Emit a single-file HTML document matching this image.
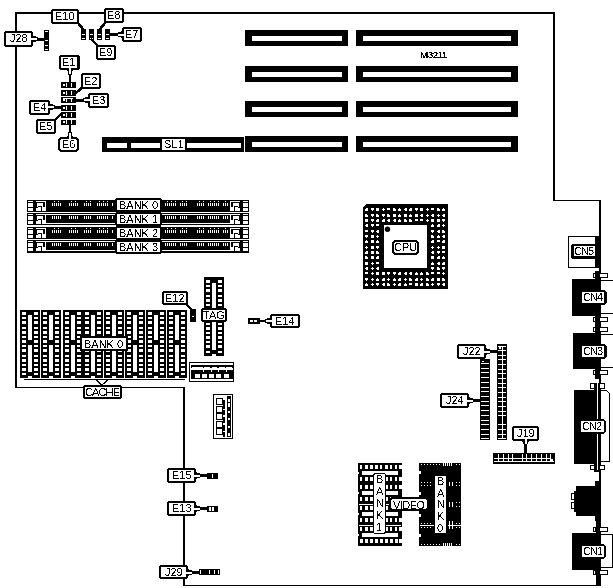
<!DOCTYPE html><html><head><meta charset="utf-8"><style>html,body{margin:0;padding:0;background:#fff;overflow:hidden;}svg{display:block;}text{font-family:"Liberation Sans",sans-serif;}</style></head><body><svg width="613" height="588" viewBox="0 0 613 588" shape-rendering="crispEdges" font-family="Liberation Sans, sans-serif">
<defs><filter id="th" x="0" y="0" width="613" height="588" filterUnits="userSpaceOnUse"><feComponentTransfer><feFuncA type="discrete" tableValues="0 1"/></feComponentTransfer></filter><filter id="th2" x="0" y="0" width="613" height="588" filterUnits="userSpaceOnUse"><feComponentTransfer><feFuncA type="discrete" tableValues="0 1 1"/></feComponentTransfer></filter></defs>
<rect x="0" y="0" width="613" height="588" fill="#fff"/>
<rect x="15" y="12" width="540" height="2" fill="#000"/>
<rect x="15" y="12" width="2" height="375" fill="#000"/>
<rect x="15" y="387" width="170" height="1" fill="#000"/>
<rect x="183" y="387" width="2" height="199" fill="#000"/>
<rect x="183" y="585" width="418" height="1" fill="#000"/>
<rect x="553" y="12" width="2" height="189" fill="#000"/>
<rect x="553" y="200" width="48" height="1" fill="#000"/>
<rect x="599" y="200" width="2" height="386" fill="#000"/>
<rect x="245" y="30" width="103" height="16" fill="#000"/>
<rect x="252" y="36" width="90" height="5" fill="#fff"/>
<rect x="356" y="30" width="162" height="16" fill="#000"/>
<rect x="363" y="36" width="148" height="5" fill="#fff"/>
<rect x="245" y="66" width="103" height="16" fill="#000"/>
<rect x="252" y="72" width="90" height="5" fill="#fff"/>
<rect x="356" y="66" width="162" height="16" fill="#000"/>
<rect x="363" y="72" width="148" height="5" fill="#fff"/>
<rect x="245" y="101" width="103" height="16" fill="#000"/>
<rect x="252" y="107" width="90" height="5" fill="#fff"/>
<rect x="356" y="101" width="162" height="16" fill="#000"/>
<rect x="363" y="107" width="148" height="5" fill="#fff"/>
<rect x="245" y="136" width="103" height="16" fill="#000"/>
<rect x="252" y="142" width="90" height="5" fill="#fff"/>
<rect x="356" y="136" width="162" height="16" fill="#000"/>
<rect x="363" y="142" width="148" height="5" fill="#fff"/>
<rect x="102" y="137" width="142" height="15" fill="#000"/>
<rect x="107" y="143" width="20" height="5" fill="#fff"/>
<rect x="131" y="143" width="29" height="5" fill="#fff"/>
<rect x="187" y="143" width="54" height="5" fill="#fff"/>
<rect x="162" y="139" width="23" height="11" fill="#fff"/>
<rect x="81" y="29" width="5" height="11" fill="#000"/>
<rect x="82" y="34" width="3" height="1" fill="#fff"/>
<rect x="82" y="38" width="3" height="1" fill="#fff"/>
<rect x="89" y="29" width="5" height="11" fill="#000"/>
<rect x="90" y="34" width="3" height="1" fill="#fff"/>
<rect x="90" y="38" width="3" height="1" fill="#fff"/>
<rect x="97" y="29" width="5" height="11" fill="#000"/>
<rect x="98" y="34" width="3" height="1" fill="#fff"/>
<rect x="98" y="38" width="3" height="1" fill="#fff"/>
<rect x="105" y="29" width="5" height="11" fill="#000"/>
<rect x="106" y="34" width="3" height="1" fill="#fff"/>
<rect x="106" y="38" width="3" height="1" fill="#fff"/>
<line x1="77" y1="22" x2="84" y2="30" stroke="#000" stroke-width="2.5"/>
<line x1="106" y1="22" x2="99" y2="30" stroke="#000" stroke-width="2.5"/>
<line x1="91" y1="39" x2="98" y2="46" stroke="#000" stroke-width="2.5"/>
<rect x="110" y="33" width="8" height="3" fill="#000"/>
<path d="M52 9H78V10H79V23H78V24H52V23H51V10H52Z" fill="#000"/>
<rect x="53" y="11" width="24" height="11" fill="#fff"/>
<path d="M105 8H123V9H124V22H123V23H105V22H104V9H105Z" fill="#000"/>
<rect x="106" y="10" width="16" height="11" fill="#fff"/>
<path d="M123 27H141V28H142V41H141V42H123V41H122V28H123Z" fill="#000"/>
<rect x="124" y="29" width="16" height="11" fill="#fff"/>
<path d="M97 45H115V46H116V59H115V60H97V59H96V46H97Z" fill="#000"/>
<rect x="98" y="47" width="16" height="11" fill="#fff"/>
<rect x="44" y="30" width="5" height="21" fill="#000"/>
<rect x="45" y="31" width="3" height="1" fill="#fff"/>
<rect x="45" y="40" width="3" height="1" fill="#fff"/>
<rect x="45" y="45" width="3" height="1" fill="#fff"/>
<rect x="45" y="49" width="3" height="1" fill="#fff"/>
<rect x="37" y="38" width="7" height="3" fill="#000"/>
<path d="M5 31H32V32H33V46H32V47H5V46H4V32H5Z" fill="#000"/>
<rect x="6" y="33" width="25" height="12" fill="#fff"/>
<rect x="61" y="82" width="15" height="6" fill="#000"/>
<rect x="63" y="84" width="2" height="2" fill="#fff"/>
<rect x="66" y="83" width="1" height="4" fill="#fff"/>
<rect x="71" y="83" width="1" height="4" fill="#fff"/>
<rect x="61" y="90" width="15" height="6" fill="#000"/>
<rect x="63" y="92" width="2" height="2" fill="#fff"/>
<rect x="66" y="91" width="1" height="4" fill="#fff"/>
<rect x="71" y="91" width="1" height="4" fill="#fff"/>
<rect x="61" y="97" width="15" height="6" fill="#000"/>
<rect x="63" y="99" width="2" height="2" fill="#fff"/>
<rect x="66" y="98" width="1" height="4" fill="#fff"/>
<rect x="71" y="98" width="1" height="4" fill="#fff"/>
<rect x="63" y="98" width="10" height="1" fill="#fff"/>
<rect x="61" y="105" width="15" height="6" fill="#000"/>
<rect x="63" y="107" width="2" height="2" fill="#fff"/>
<rect x="66" y="106" width="1" height="4" fill="#fff"/>
<rect x="71" y="106" width="1" height="4" fill="#fff"/>
<rect x="61" y="112" width="15" height="6" fill="#000"/>
<rect x="63" y="114" width="2" height="2" fill="#fff"/>
<rect x="66" y="113" width="1" height="4" fill="#fff"/>
<rect x="71" y="113" width="1" height="4" fill="#fff"/>
<rect x="61" y="120" width="15" height="5" fill="#000"/>
<rect x="63" y="121" width="2" height="2" fill="#fff"/>
<rect x="66" y="120" width="1" height="4" fill="#fff"/>
<rect x="71" y="120" width="1" height="4" fill="#fff"/>
<rect x="69" y="69" width="2" height="13" fill="#000"/>
<line x1="76" y1="93" x2="83" y2="87" stroke="#000" stroke-width="2.5"/>
<rect x="76" y="99" width="8" height="3" fill="#000"/>
<rect x="54" y="106" width="7" height="3" fill="#000"/>
<line x1="55" y1="120" x2="62" y2="113" stroke="#000" stroke-width="2.5"/>
<rect x="69" y="125" width="2" height="12" fill="#000"/>
<path d="M60 55H79V56H80V69H79V70H60V69H59V56H60Z" fill="#000"/>
<rect x="61" y="57" width="16" height="11" fill="#fff"/>
<path d="M82 73H100V74H101V88H100V89H82V88H81V74H82Z" fill="#000"/>
<rect x="83" y="75" width="16" height="12" fill="#fff"/>
<path d="M89 93H108V94H109V107H108V108H89V107H88V94H89Z" fill="#000"/>
<rect x="90" y="95" width="17" height="11" fill="#fff"/>
<path d="M30 100H49V101H50V114H49V115H30V114H29V101H30Z" fill="#000"/>
<rect x="31" y="102" width="17" height="11" fill="#fff"/>
<path d="M37 119H55V120H56V133H55V134H37V133H36V120H37Z" fill="#000"/>
<rect x="38" y="121" width="16" height="11" fill="#fff"/>
<path d="M60 137H77V138H78V139H79V150H78V151H77V152H60V151H59V150H58V139H59V138H60Z" fill="#000"/>
<path d="M61 139H76V140H77V149H76V150H61V149H60V140H61Z" fill="#fff"/>
<rect x="27" y="200" width="222" height="12" fill="#000"/>
<rect x="28" y="201" width="5" height="1" fill="#fff"/>
<rect x="28" y="203" width="5" height="4" fill="#fff"/>
<rect x="28" y="208" width="5" height="3" fill="#fff"/>
<rect x="243" y="201" width="5" height="1" fill="#fff"/>
<rect x="243" y="203" width="5" height="4" fill="#fff"/>
<rect x="243" y="208" width="5" height="3" fill="#fff"/>
<rect x="36" y="201" width="10" height="1" fill="#fff"/>
<rect x="45" y="201" width="1" height="10" fill="#fff"/>
<rect x="37" y="203" width="6" height="3" fill="#fff"/>
<rect x="37" y="206" width="1" height="1" fill="#fff"/>
<rect x="42" y="206" width="1" height="1" fill="#fff"/>
<rect x="38" y="207" width="3" height="1" fill="#fff"/>
<rect x="36" y="208" width="5" height="3" fill="#fff"/>
<rect x="42" y="207" width="4" height="4" fill="#fff"/>
<rect x="230" y="201" width="10" height="1" fill="#fff"/>
<rect x="230" y="201" width="1" height="10" fill="#fff"/>
<rect x="233" y="203" width="6" height="3" fill="#fff"/>
<rect x="238" y="206" width="1" height="1" fill="#fff"/>
<rect x="233" y="206" width="1" height="1" fill="#fff"/>
<rect x="235" y="207" width="3" height="1" fill="#fff"/>
<rect x="235" y="208" width="5" height="3" fill="#fff"/>
<rect x="230" y="207" width="4" height="4" fill="#fff"/>
<rect x="52" y="203" width="1" height="3" fill="#fff"/>
<rect x="54" y="203" width="1" height="3" fill="#fff"/>
<rect x="54" y="201" width="1" height="1" fill="#fff"/>
<rect x="56" y="203" width="1" height="3" fill="#fff"/>
<rect x="58" y="203" width="1" height="3" fill="#fff"/>
<rect x="58" y="201" width="1" height="1" fill="#fff"/>
<rect x="60" y="203" width="1" height="3" fill="#fff"/>
<rect x="69" y="203" width="1" height="3" fill="#fff"/>
<rect x="71" y="203" width="1" height="3" fill="#fff"/>
<rect x="71" y="201" width="1" height="1" fill="#fff"/>
<rect x="73" y="203" width="1" height="3" fill="#fff"/>
<rect x="75" y="203" width="1" height="3" fill="#fff"/>
<rect x="75" y="201" width="1" height="1" fill="#fff"/>
<rect x="77" y="203" width="1" height="3" fill="#fff"/>
<rect x="84" y="203" width="1" height="3" fill="#fff"/>
<rect x="86" y="203" width="1" height="3" fill="#fff"/>
<rect x="86" y="201" width="1" height="1" fill="#fff"/>
<rect x="88" y="203" width="1" height="3" fill="#fff"/>
<rect x="90" y="203" width="1" height="3" fill="#fff"/>
<rect x="90" y="201" width="1" height="1" fill="#fff"/>
<rect x="97" y="203" width="1" height="3" fill="#fff"/>
<rect x="99" y="203" width="1" height="3" fill="#fff"/>
<rect x="99" y="201" width="1" height="1" fill="#fff"/>
<rect x="101" y="203" width="1" height="3" fill="#fff"/>
<rect x="103" y="203" width="1" height="3" fill="#fff"/>
<rect x="103" y="201" width="1" height="1" fill="#fff"/>
<rect x="105" y="203" width="1" height="3" fill="#fff"/>
<rect x="107" y="203" width="1" height="3" fill="#fff"/>
<rect x="107" y="201" width="1" height="1" fill="#fff"/>
<rect x="112" y="203" width="1" height="3" fill="#fff"/>
<rect x="165" y="203" width="1" height="3" fill="#fff"/>
<rect x="167" y="203" width="1" height="3" fill="#fff"/>
<rect x="167" y="201" width="1" height="1" fill="#fff"/>
<rect x="169" y="203" width="1" height="3" fill="#fff"/>
<rect x="171" y="203" width="1" height="3" fill="#fff"/>
<rect x="171" y="201" width="1" height="1" fill="#fff"/>
<rect x="173" y="203" width="1" height="3" fill="#fff"/>
<rect x="175" y="203" width="1" height="3" fill="#fff"/>
<rect x="175" y="201" width="1" height="1" fill="#fff"/>
<rect x="180" y="203" width="1" height="3" fill="#fff"/>
<rect x="182" y="203" width="1" height="3" fill="#fff"/>
<rect x="182" y="201" width="1" height="1" fill="#fff"/>
<rect x="184" y="203" width="1" height="3" fill="#fff"/>
<rect x="186" y="203" width="1" height="3" fill="#fff"/>
<rect x="186" y="201" width="1" height="1" fill="#fff"/>
<rect x="197" y="203" width="1" height="3" fill="#fff"/>
<rect x="199" y="203" width="1" height="3" fill="#fff"/>
<rect x="199" y="201" width="1" height="1" fill="#fff"/>
<rect x="201" y="203" width="1" height="3" fill="#fff"/>
<rect x="203" y="203" width="1" height="3" fill="#fff"/>
<rect x="203" y="201" width="1" height="1" fill="#fff"/>
<rect x="208" y="203" width="1" height="3" fill="#fff"/>
<rect x="210" y="203" width="1" height="3" fill="#fff"/>
<rect x="210" y="201" width="1" height="1" fill="#fff"/>
<rect x="212" y="203" width="1" height="3" fill="#fff"/>
<rect x="214" y="203" width="1" height="3" fill="#fff"/>
<rect x="214" y="201" width="1" height="1" fill="#fff"/>
<rect x="216" y="203" width="1" height="3" fill="#fff"/>
<rect x="218" y="203" width="1" height="3" fill="#fff"/>
<rect x="218" y="201" width="1" height="1" fill="#fff"/>
<rect x="223" y="203" width="1" height="3" fill="#fff"/>
<rect x="225" y="203" width="1" height="3" fill="#fff"/>
<rect x="225" y="201" width="1" height="1" fill="#fff"/>
<rect x="227" y="203" width="1" height="3" fill="#fff"/>
<rect x="27" y="213" width="222" height="12" fill="#000"/>
<rect x="28" y="214" width="5" height="1" fill="#fff"/>
<rect x="28" y="216" width="5" height="4" fill="#fff"/>
<rect x="28" y="221" width="5" height="3" fill="#fff"/>
<rect x="243" y="214" width="5" height="1" fill="#fff"/>
<rect x="243" y="216" width="5" height="4" fill="#fff"/>
<rect x="243" y="221" width="5" height="3" fill="#fff"/>
<rect x="36" y="214" width="10" height="1" fill="#fff"/>
<rect x="45" y="214" width="1" height="10" fill="#fff"/>
<rect x="37" y="216" width="6" height="3" fill="#fff"/>
<rect x="37" y="219" width="1" height="1" fill="#fff"/>
<rect x="42" y="219" width="1" height="1" fill="#fff"/>
<rect x="38" y="220" width="3" height="1" fill="#fff"/>
<rect x="36" y="221" width="5" height="3" fill="#fff"/>
<rect x="42" y="220" width="4" height="4" fill="#fff"/>
<rect x="230" y="214" width="10" height="1" fill="#fff"/>
<rect x="230" y="214" width="1" height="10" fill="#fff"/>
<rect x="233" y="216" width="6" height="3" fill="#fff"/>
<rect x="238" y="219" width="1" height="1" fill="#fff"/>
<rect x="233" y="219" width="1" height="1" fill="#fff"/>
<rect x="235" y="220" width="3" height="1" fill="#fff"/>
<rect x="235" y="221" width="5" height="3" fill="#fff"/>
<rect x="230" y="220" width="4" height="4" fill="#fff"/>
<rect x="36" y="214" width="204" height="1" fill="#fff"/>
<rect x="42" y="223" width="192" height="1" fill="#fff"/>
<rect x="52" y="216" width="1" height="3" fill="#fff"/>
<rect x="54" y="216" width="1" height="3" fill="#fff"/>
<rect x="56" y="216" width="1" height="3" fill="#fff"/>
<rect x="58" y="216" width="1" height="3" fill="#fff"/>
<rect x="60" y="216" width="1" height="3" fill="#fff"/>
<rect x="69" y="216" width="1" height="3" fill="#fff"/>
<rect x="71" y="216" width="1" height="3" fill="#fff"/>
<rect x="73" y="216" width="1" height="3" fill="#fff"/>
<rect x="75" y="216" width="1" height="3" fill="#fff"/>
<rect x="77" y="216" width="1" height="3" fill="#fff"/>
<rect x="84" y="216" width="1" height="3" fill="#fff"/>
<rect x="86" y="216" width="1" height="3" fill="#fff"/>
<rect x="88" y="216" width="1" height="3" fill="#fff"/>
<rect x="90" y="216" width="1" height="3" fill="#fff"/>
<rect x="97" y="216" width="1" height="3" fill="#fff"/>
<rect x="99" y="216" width="1" height="3" fill="#fff"/>
<rect x="101" y="216" width="1" height="3" fill="#fff"/>
<rect x="103" y="216" width="1" height="3" fill="#fff"/>
<rect x="105" y="216" width="1" height="3" fill="#fff"/>
<rect x="107" y="216" width="1" height="3" fill="#fff"/>
<rect x="112" y="216" width="1" height="3" fill="#fff"/>
<rect x="165" y="216" width="1" height="3" fill="#fff"/>
<rect x="167" y="216" width="1" height="3" fill="#fff"/>
<rect x="169" y="216" width="1" height="3" fill="#fff"/>
<rect x="171" y="216" width="1" height="3" fill="#fff"/>
<rect x="173" y="216" width="1" height="3" fill="#fff"/>
<rect x="175" y="216" width="1" height="3" fill="#fff"/>
<rect x="180" y="216" width="1" height="3" fill="#fff"/>
<rect x="182" y="216" width="1" height="3" fill="#fff"/>
<rect x="184" y="216" width="1" height="3" fill="#fff"/>
<rect x="186" y="216" width="1" height="3" fill="#fff"/>
<rect x="197" y="216" width="1" height="3" fill="#fff"/>
<rect x="199" y="216" width="1" height="3" fill="#fff"/>
<rect x="201" y="216" width="1" height="3" fill="#fff"/>
<rect x="203" y="216" width="1" height="3" fill="#fff"/>
<rect x="208" y="216" width="1" height="3" fill="#fff"/>
<rect x="210" y="216" width="1" height="3" fill="#fff"/>
<rect x="212" y="216" width="1" height="3" fill="#fff"/>
<rect x="214" y="216" width="1" height="3" fill="#fff"/>
<rect x="216" y="216" width="1" height="3" fill="#fff"/>
<rect x="218" y="216" width="1" height="3" fill="#fff"/>
<rect x="223" y="216" width="1" height="3" fill="#fff"/>
<rect x="225" y="216" width="1" height="3" fill="#fff"/>
<rect x="227" y="216" width="1" height="3" fill="#fff"/>
<rect x="27" y="227" width="222" height="12" fill="#000"/>
<rect x="28" y="228" width="5" height="1" fill="#fff"/>
<rect x="28" y="230" width="5" height="4" fill="#fff"/>
<rect x="28" y="235" width="5" height="3" fill="#fff"/>
<rect x="243" y="228" width="5" height="1" fill="#fff"/>
<rect x="243" y="230" width="5" height="4" fill="#fff"/>
<rect x="243" y="235" width="5" height="3" fill="#fff"/>
<rect x="36" y="228" width="10" height="1" fill="#fff"/>
<rect x="45" y="228" width="1" height="10" fill="#fff"/>
<rect x="37" y="230" width="6" height="3" fill="#fff"/>
<rect x="37" y="233" width="1" height="1" fill="#fff"/>
<rect x="42" y="233" width="1" height="1" fill="#fff"/>
<rect x="38" y="234" width="3" height="1" fill="#fff"/>
<rect x="36" y="235" width="5" height="3" fill="#fff"/>
<rect x="42" y="234" width="4" height="4" fill="#fff"/>
<rect x="230" y="228" width="10" height="1" fill="#fff"/>
<rect x="230" y="228" width="1" height="10" fill="#fff"/>
<rect x="233" y="230" width="6" height="3" fill="#fff"/>
<rect x="238" y="233" width="1" height="1" fill="#fff"/>
<rect x="233" y="233" width="1" height="1" fill="#fff"/>
<rect x="235" y="234" width="3" height="1" fill="#fff"/>
<rect x="235" y="235" width="5" height="3" fill="#fff"/>
<rect x="230" y="234" width="4" height="4" fill="#fff"/>
<rect x="52" y="230" width="1" height="3" fill="#fff"/>
<rect x="54" y="230" width="1" height="3" fill="#fff"/>
<rect x="54" y="228" width="1" height="1" fill="#fff"/>
<rect x="56" y="230" width="1" height="3" fill="#fff"/>
<rect x="58" y="230" width="1" height="3" fill="#fff"/>
<rect x="58" y="228" width="1" height="1" fill="#fff"/>
<rect x="60" y="230" width="1" height="3" fill="#fff"/>
<rect x="69" y="230" width="1" height="3" fill="#fff"/>
<rect x="71" y="230" width="1" height="3" fill="#fff"/>
<rect x="71" y="228" width="1" height="1" fill="#fff"/>
<rect x="73" y="230" width="1" height="3" fill="#fff"/>
<rect x="75" y="230" width="1" height="3" fill="#fff"/>
<rect x="75" y="228" width="1" height="1" fill="#fff"/>
<rect x="77" y="230" width="1" height="3" fill="#fff"/>
<rect x="84" y="230" width="1" height="3" fill="#fff"/>
<rect x="86" y="230" width="1" height="3" fill="#fff"/>
<rect x="86" y="228" width="1" height="1" fill="#fff"/>
<rect x="88" y="230" width="1" height="3" fill="#fff"/>
<rect x="90" y="230" width="1" height="3" fill="#fff"/>
<rect x="90" y="228" width="1" height="1" fill="#fff"/>
<rect x="97" y="230" width="1" height="3" fill="#fff"/>
<rect x="99" y="230" width="1" height="3" fill="#fff"/>
<rect x="99" y="228" width="1" height="1" fill="#fff"/>
<rect x="101" y="230" width="1" height="3" fill="#fff"/>
<rect x="103" y="230" width="1" height="3" fill="#fff"/>
<rect x="103" y="228" width="1" height="1" fill="#fff"/>
<rect x="105" y="230" width="1" height="3" fill="#fff"/>
<rect x="107" y="230" width="1" height="3" fill="#fff"/>
<rect x="107" y="228" width="1" height="1" fill="#fff"/>
<rect x="112" y="230" width="1" height="3" fill="#fff"/>
<rect x="165" y="230" width="1" height="3" fill="#fff"/>
<rect x="167" y="230" width="1" height="3" fill="#fff"/>
<rect x="167" y="228" width="1" height="1" fill="#fff"/>
<rect x="169" y="230" width="1" height="3" fill="#fff"/>
<rect x="171" y="230" width="1" height="3" fill="#fff"/>
<rect x="171" y="228" width="1" height="1" fill="#fff"/>
<rect x="173" y="230" width="1" height="3" fill="#fff"/>
<rect x="175" y="230" width="1" height="3" fill="#fff"/>
<rect x="175" y="228" width="1" height="1" fill="#fff"/>
<rect x="180" y="230" width="1" height="3" fill="#fff"/>
<rect x="182" y="230" width="1" height="3" fill="#fff"/>
<rect x="182" y="228" width="1" height="1" fill="#fff"/>
<rect x="184" y="230" width="1" height="3" fill="#fff"/>
<rect x="186" y="230" width="1" height="3" fill="#fff"/>
<rect x="186" y="228" width="1" height="1" fill="#fff"/>
<rect x="197" y="230" width="1" height="3" fill="#fff"/>
<rect x="199" y="230" width="1" height="3" fill="#fff"/>
<rect x="199" y="228" width="1" height="1" fill="#fff"/>
<rect x="201" y="230" width="1" height="3" fill="#fff"/>
<rect x="203" y="230" width="1" height="3" fill="#fff"/>
<rect x="203" y="228" width="1" height="1" fill="#fff"/>
<rect x="208" y="230" width="1" height="3" fill="#fff"/>
<rect x="210" y="230" width="1" height="3" fill="#fff"/>
<rect x="210" y="228" width="1" height="1" fill="#fff"/>
<rect x="212" y="230" width="1" height="3" fill="#fff"/>
<rect x="214" y="230" width="1" height="3" fill="#fff"/>
<rect x="214" y="228" width="1" height="1" fill="#fff"/>
<rect x="216" y="230" width="1" height="3" fill="#fff"/>
<rect x="218" y="230" width="1" height="3" fill="#fff"/>
<rect x="218" y="228" width="1" height="1" fill="#fff"/>
<rect x="223" y="230" width="1" height="3" fill="#fff"/>
<rect x="225" y="230" width="1" height="3" fill="#fff"/>
<rect x="225" y="228" width="1" height="1" fill="#fff"/>
<rect x="227" y="230" width="1" height="3" fill="#fff"/>
<rect x="27" y="240" width="222" height="13" fill="#000"/>
<rect x="28" y="241" width="5" height="1" fill="#fff"/>
<rect x="28" y="243" width="5" height="4" fill="#fff"/>
<rect x="28" y="248" width="5" height="3" fill="#fff"/>
<rect x="243" y="241" width="5" height="1" fill="#fff"/>
<rect x="243" y="243" width="5" height="4" fill="#fff"/>
<rect x="243" y="248" width="5" height="3" fill="#fff"/>
<rect x="36" y="241" width="10" height="1" fill="#fff"/>
<rect x="45" y="241" width="1" height="10" fill="#fff"/>
<rect x="37" y="243" width="6" height="3" fill="#fff"/>
<rect x="37" y="246" width="1" height="1" fill="#fff"/>
<rect x="42" y="246" width="1" height="1" fill="#fff"/>
<rect x="38" y="247" width="3" height="1" fill="#fff"/>
<rect x="36" y="248" width="5" height="3" fill="#fff"/>
<rect x="42" y="247" width="4" height="4" fill="#fff"/>
<rect x="230" y="241" width="10" height="1" fill="#fff"/>
<rect x="230" y="241" width="1" height="10" fill="#fff"/>
<rect x="233" y="243" width="6" height="3" fill="#fff"/>
<rect x="238" y="246" width="1" height="1" fill="#fff"/>
<rect x="233" y="246" width="1" height="1" fill="#fff"/>
<rect x="235" y="247" width="3" height="1" fill="#fff"/>
<rect x="235" y="248" width="5" height="3" fill="#fff"/>
<rect x="230" y="247" width="4" height="4" fill="#fff"/>
<rect x="36" y="241" width="204" height="1" fill="#fff"/>
<rect x="42" y="250" width="192" height="1" fill="#fff"/>
<rect x="52" y="243" width="1" height="3" fill="#fff"/>
<rect x="54" y="243" width="1" height="3" fill="#fff"/>
<rect x="56" y="243" width="1" height="3" fill="#fff"/>
<rect x="58" y="243" width="1" height="3" fill="#fff"/>
<rect x="60" y="243" width="1" height="3" fill="#fff"/>
<rect x="69" y="243" width="1" height="3" fill="#fff"/>
<rect x="71" y="243" width="1" height="3" fill="#fff"/>
<rect x="73" y="243" width="1" height="3" fill="#fff"/>
<rect x="75" y="243" width="1" height="3" fill="#fff"/>
<rect x="77" y="243" width="1" height="3" fill="#fff"/>
<rect x="84" y="243" width="1" height="3" fill="#fff"/>
<rect x="86" y="243" width="1" height="3" fill="#fff"/>
<rect x="88" y="243" width="1" height="3" fill="#fff"/>
<rect x="90" y="243" width="1" height="3" fill="#fff"/>
<rect x="97" y="243" width="1" height="3" fill="#fff"/>
<rect x="99" y="243" width="1" height="3" fill="#fff"/>
<rect x="101" y="243" width="1" height="3" fill="#fff"/>
<rect x="103" y="243" width="1" height="3" fill="#fff"/>
<rect x="105" y="243" width="1" height="3" fill="#fff"/>
<rect x="107" y="243" width="1" height="3" fill="#fff"/>
<rect x="112" y="243" width="1" height="3" fill="#fff"/>
<rect x="165" y="243" width="1" height="3" fill="#fff"/>
<rect x="167" y="243" width="1" height="3" fill="#fff"/>
<rect x="169" y="243" width="1" height="3" fill="#fff"/>
<rect x="171" y="243" width="1" height="3" fill="#fff"/>
<rect x="173" y="243" width="1" height="3" fill="#fff"/>
<rect x="175" y="243" width="1" height="3" fill="#fff"/>
<rect x="180" y="243" width="1" height="3" fill="#fff"/>
<rect x="182" y="243" width="1" height="3" fill="#fff"/>
<rect x="184" y="243" width="1" height="3" fill="#fff"/>
<rect x="186" y="243" width="1" height="3" fill="#fff"/>
<rect x="197" y="243" width="1" height="3" fill="#fff"/>
<rect x="199" y="243" width="1" height="3" fill="#fff"/>
<rect x="201" y="243" width="1" height="3" fill="#fff"/>
<rect x="203" y="243" width="1" height="3" fill="#fff"/>
<rect x="208" y="243" width="1" height="3" fill="#fff"/>
<rect x="210" y="243" width="1" height="3" fill="#fff"/>
<rect x="212" y="243" width="1" height="3" fill="#fff"/>
<rect x="214" y="243" width="1" height="3" fill="#fff"/>
<rect x="216" y="243" width="1" height="3" fill="#fff"/>
<rect x="218" y="243" width="1" height="3" fill="#fff"/>
<rect x="223" y="243" width="1" height="3" fill="#fff"/>
<rect x="225" y="243" width="1" height="3" fill="#fff"/>
<rect x="227" y="243" width="1" height="3" fill="#fff"/>
<path d="M116 198H161V199H162V211H161V212H116V211H115V199H116Z" fill="#000"/>
<rect x="117" y="200" width="43" height="10" fill="#fff"/>
<path d="M116 212H161V213H162V225H161V226H116V225H115V213H116Z" fill="#000"/>
<rect x="117" y="214" width="43" height="10" fill="#fff"/>
<path d="M116 226H161V227H162V239H161V240H116V239H115V227H116Z" fill="#000"/>
<rect x="117" y="228" width="43" height="10" fill="#fff"/>
<path d="M116 240H161V241H162V253H161V254H116V253H115V241H116Z" fill="#000"/>
<rect x="117" y="242" width="43" height="10" fill="#fff"/>
<rect x="20" y="310" width="20" height="68" fill="#000"/>
<rect x="22" y="312" width="4" height="3" fill="#fff"/>
<rect x="34" y="312" width="4" height="3" fill="#fff"/>
<rect x="22" y="317" width="4" height="2" fill="#fff"/>
<rect x="34" y="317" width="4" height="2" fill="#fff"/>
<rect x="22" y="321" width="4" height="3" fill="#fff"/>
<rect x="34" y="321" width="4" height="3" fill="#fff"/>
<rect x="22" y="327" width="4" height="2" fill="#fff"/>
<rect x="34" y="327" width="4" height="2" fill="#fff"/>
<rect x="22" y="331" width="4" height="3" fill="#fff"/>
<rect x="34" y="331" width="4" height="3" fill="#fff"/>
<rect x="22" y="336" width="4" height="2" fill="#fff"/>
<rect x="34" y="336" width="4" height="2" fill="#fff"/>
<rect x="22" y="340" width="4" height="3" fill="#fff"/>
<rect x="34" y="340" width="4" height="3" fill="#fff"/>
<rect x="22" y="345" width="4" height="2" fill="#fff"/>
<rect x="34" y="345" width="4" height="2" fill="#fff"/>
<rect x="22" y="349" width="4" height="3" fill="#fff"/>
<rect x="34" y="349" width="4" height="3" fill="#fff"/>
<rect x="22" y="355" width="4" height="2" fill="#fff"/>
<rect x="34" y="355" width="4" height="2" fill="#fff"/>
<rect x="22" y="359" width="4" height="3" fill="#fff"/>
<rect x="34" y="359" width="4" height="3" fill="#fff"/>
<rect x="22" y="364" width="4" height="2" fill="#fff"/>
<rect x="34" y="364" width="4" height="2" fill="#fff"/>
<rect x="22" y="368" width="4" height="3" fill="#fff"/>
<rect x="34" y="368" width="4" height="3" fill="#fff"/>
<rect x="22" y="373" width="4" height="2" fill="#fff"/>
<rect x="34" y="373" width="4" height="2" fill="#fff"/>
<rect x="28" y="315" width="4" height="25" fill="#fff"/>
<rect x="28" y="345" width="4" height="27" fill="#fff"/>
<rect x="28" y="376" width="4" height="2" fill="#fff"/>
<rect x="41" y="310" width="20" height="68" fill="#000"/>
<rect x="43" y="312" width="4" height="3" fill="#fff"/>
<rect x="55" y="312" width="4" height="3" fill="#fff"/>
<rect x="43" y="317" width="4" height="2" fill="#fff"/>
<rect x="55" y="317" width="4" height="2" fill="#fff"/>
<rect x="43" y="321" width="4" height="3" fill="#fff"/>
<rect x="55" y="321" width="4" height="3" fill="#fff"/>
<rect x="43" y="327" width="4" height="2" fill="#fff"/>
<rect x="55" y="327" width="4" height="2" fill="#fff"/>
<rect x="43" y="331" width="4" height="3" fill="#fff"/>
<rect x="55" y="331" width="4" height="3" fill="#fff"/>
<rect x="43" y="336" width="4" height="2" fill="#fff"/>
<rect x="55" y="336" width="4" height="2" fill="#fff"/>
<rect x="43" y="340" width="4" height="3" fill="#fff"/>
<rect x="55" y="340" width="4" height="3" fill="#fff"/>
<rect x="43" y="345" width="4" height="2" fill="#fff"/>
<rect x="55" y="345" width="4" height="2" fill="#fff"/>
<rect x="43" y="349" width="4" height="3" fill="#fff"/>
<rect x="55" y="349" width="4" height="3" fill="#fff"/>
<rect x="43" y="355" width="4" height="2" fill="#fff"/>
<rect x="55" y="355" width="4" height="2" fill="#fff"/>
<rect x="43" y="359" width="4" height="3" fill="#fff"/>
<rect x="55" y="359" width="4" height="3" fill="#fff"/>
<rect x="43" y="364" width="4" height="2" fill="#fff"/>
<rect x="55" y="364" width="4" height="2" fill="#fff"/>
<rect x="43" y="368" width="4" height="3" fill="#fff"/>
<rect x="55" y="368" width="4" height="3" fill="#fff"/>
<rect x="43" y="373" width="4" height="2" fill="#fff"/>
<rect x="55" y="373" width="4" height="2" fill="#fff"/>
<rect x="49" y="315" width="4" height="25" fill="#fff"/>
<rect x="49" y="345" width="4" height="27" fill="#fff"/>
<rect x="49" y="376" width="4" height="2" fill="#fff"/>
<rect x="63" y="310" width="20" height="68" fill="#000"/>
<rect x="65" y="312" width="4" height="3" fill="#fff"/>
<rect x="77" y="312" width="4" height="3" fill="#fff"/>
<rect x="65" y="317" width="4" height="2" fill="#fff"/>
<rect x="77" y="317" width="4" height="2" fill="#fff"/>
<rect x="65" y="321" width="4" height="3" fill="#fff"/>
<rect x="77" y="321" width="4" height="3" fill="#fff"/>
<rect x="65" y="327" width="4" height="2" fill="#fff"/>
<rect x="77" y="327" width="4" height="2" fill="#fff"/>
<rect x="65" y="331" width="4" height="3" fill="#fff"/>
<rect x="77" y="331" width="4" height="3" fill="#fff"/>
<rect x="65" y="336" width="4" height="2" fill="#fff"/>
<rect x="77" y="336" width="4" height="2" fill="#fff"/>
<rect x="65" y="340" width="4" height="3" fill="#fff"/>
<rect x="77" y="340" width="4" height="3" fill="#fff"/>
<rect x="65" y="345" width="4" height="2" fill="#fff"/>
<rect x="77" y="345" width="4" height="2" fill="#fff"/>
<rect x="65" y="349" width="4" height="3" fill="#fff"/>
<rect x="77" y="349" width="4" height="3" fill="#fff"/>
<rect x="65" y="355" width="4" height="2" fill="#fff"/>
<rect x="77" y="355" width="4" height="2" fill="#fff"/>
<rect x="65" y="359" width="4" height="3" fill="#fff"/>
<rect x="77" y="359" width="4" height="3" fill="#fff"/>
<rect x="65" y="364" width="4" height="2" fill="#fff"/>
<rect x="77" y="364" width="4" height="2" fill="#fff"/>
<rect x="65" y="368" width="4" height="3" fill="#fff"/>
<rect x="77" y="368" width="4" height="3" fill="#fff"/>
<rect x="65" y="373" width="4" height="2" fill="#fff"/>
<rect x="77" y="373" width="4" height="2" fill="#fff"/>
<rect x="71" y="315" width="4" height="25" fill="#fff"/>
<rect x="71" y="345" width="4" height="27" fill="#fff"/>
<rect x="71" y="376" width="4" height="2" fill="#fff"/>
<rect x="83" y="310" width="20" height="68" fill="#000"/>
<rect x="85" y="312" width="4" height="3" fill="#fff"/>
<rect x="97" y="312" width="4" height="3" fill="#fff"/>
<rect x="85" y="317" width="4" height="2" fill="#fff"/>
<rect x="97" y="317" width="4" height="2" fill="#fff"/>
<rect x="85" y="321" width="4" height="3" fill="#fff"/>
<rect x="97" y="321" width="4" height="3" fill="#fff"/>
<rect x="85" y="327" width="4" height="2" fill="#fff"/>
<rect x="97" y="327" width="4" height="2" fill="#fff"/>
<rect x="85" y="331" width="4" height="3" fill="#fff"/>
<rect x="97" y="331" width="4" height="3" fill="#fff"/>
<rect x="85" y="336" width="4" height="2" fill="#fff"/>
<rect x="97" y="336" width="4" height="2" fill="#fff"/>
<rect x="85" y="340" width="4" height="3" fill="#fff"/>
<rect x="97" y="340" width="4" height="3" fill="#fff"/>
<rect x="85" y="345" width="4" height="2" fill="#fff"/>
<rect x="97" y="345" width="4" height="2" fill="#fff"/>
<rect x="85" y="349" width="4" height="3" fill="#fff"/>
<rect x="97" y="349" width="4" height="3" fill="#fff"/>
<rect x="85" y="355" width="4" height="2" fill="#fff"/>
<rect x="97" y="355" width="4" height="2" fill="#fff"/>
<rect x="85" y="359" width="4" height="3" fill="#fff"/>
<rect x="97" y="359" width="4" height="3" fill="#fff"/>
<rect x="85" y="364" width="4" height="2" fill="#fff"/>
<rect x="97" y="364" width="4" height="2" fill="#fff"/>
<rect x="85" y="368" width="4" height="3" fill="#fff"/>
<rect x="97" y="368" width="4" height="3" fill="#fff"/>
<rect x="85" y="373" width="4" height="2" fill="#fff"/>
<rect x="97" y="373" width="4" height="2" fill="#fff"/>
<rect x="91" y="315" width="4" height="25" fill="#fff"/>
<rect x="91" y="345" width="4" height="27" fill="#fff"/>
<rect x="91" y="376" width="4" height="2" fill="#fff"/>
<rect x="104" y="310" width="20" height="68" fill="#000"/>
<rect x="106" y="312" width="4" height="3" fill="#fff"/>
<rect x="118" y="312" width="4" height="3" fill="#fff"/>
<rect x="106" y="317" width="4" height="2" fill="#fff"/>
<rect x="118" y="317" width="4" height="2" fill="#fff"/>
<rect x="106" y="321" width="4" height="3" fill="#fff"/>
<rect x="118" y="321" width="4" height="3" fill="#fff"/>
<rect x="106" y="327" width="4" height="2" fill="#fff"/>
<rect x="118" y="327" width="4" height="2" fill="#fff"/>
<rect x="106" y="331" width="4" height="3" fill="#fff"/>
<rect x="118" y="331" width="4" height="3" fill="#fff"/>
<rect x="106" y="336" width="4" height="2" fill="#fff"/>
<rect x="118" y="336" width="4" height="2" fill="#fff"/>
<rect x="106" y="340" width="4" height="3" fill="#fff"/>
<rect x="118" y="340" width="4" height="3" fill="#fff"/>
<rect x="106" y="345" width="4" height="2" fill="#fff"/>
<rect x="118" y="345" width="4" height="2" fill="#fff"/>
<rect x="106" y="349" width="4" height="3" fill="#fff"/>
<rect x="118" y="349" width="4" height="3" fill="#fff"/>
<rect x="106" y="355" width="4" height="2" fill="#fff"/>
<rect x="118" y="355" width="4" height="2" fill="#fff"/>
<rect x="106" y="359" width="4" height="3" fill="#fff"/>
<rect x="118" y="359" width="4" height="3" fill="#fff"/>
<rect x="106" y="364" width="4" height="2" fill="#fff"/>
<rect x="118" y="364" width="4" height="2" fill="#fff"/>
<rect x="106" y="368" width="4" height="3" fill="#fff"/>
<rect x="118" y="368" width="4" height="3" fill="#fff"/>
<rect x="106" y="373" width="4" height="2" fill="#fff"/>
<rect x="118" y="373" width="4" height="2" fill="#fff"/>
<rect x="112" y="315" width="4" height="25" fill="#fff"/>
<rect x="112" y="345" width="4" height="27" fill="#fff"/>
<rect x="112" y="376" width="4" height="2" fill="#fff"/>
<rect x="125" y="310" width="20" height="68" fill="#000"/>
<rect x="127" y="312" width="4" height="3" fill="#fff"/>
<rect x="139" y="312" width="4" height="3" fill="#fff"/>
<rect x="127" y="317" width="4" height="2" fill="#fff"/>
<rect x="139" y="317" width="4" height="2" fill="#fff"/>
<rect x="127" y="321" width="4" height="3" fill="#fff"/>
<rect x="139" y="321" width="4" height="3" fill="#fff"/>
<rect x="127" y="327" width="4" height="2" fill="#fff"/>
<rect x="139" y="327" width="4" height="2" fill="#fff"/>
<rect x="127" y="331" width="4" height="3" fill="#fff"/>
<rect x="139" y="331" width="4" height="3" fill="#fff"/>
<rect x="127" y="336" width="4" height="2" fill="#fff"/>
<rect x="139" y="336" width="4" height="2" fill="#fff"/>
<rect x="127" y="340" width="4" height="3" fill="#fff"/>
<rect x="139" y="340" width="4" height="3" fill="#fff"/>
<rect x="127" y="345" width="4" height="2" fill="#fff"/>
<rect x="139" y="345" width="4" height="2" fill="#fff"/>
<rect x="127" y="349" width="4" height="3" fill="#fff"/>
<rect x="139" y="349" width="4" height="3" fill="#fff"/>
<rect x="127" y="355" width="4" height="2" fill="#fff"/>
<rect x="139" y="355" width="4" height="2" fill="#fff"/>
<rect x="127" y="359" width="4" height="3" fill="#fff"/>
<rect x="139" y="359" width="4" height="3" fill="#fff"/>
<rect x="127" y="364" width="4" height="2" fill="#fff"/>
<rect x="139" y="364" width="4" height="2" fill="#fff"/>
<rect x="127" y="368" width="4" height="3" fill="#fff"/>
<rect x="139" y="368" width="4" height="3" fill="#fff"/>
<rect x="127" y="373" width="4" height="2" fill="#fff"/>
<rect x="139" y="373" width="4" height="2" fill="#fff"/>
<rect x="133" y="315" width="4" height="25" fill="#fff"/>
<rect x="133" y="345" width="4" height="27" fill="#fff"/>
<rect x="133" y="376" width="4" height="2" fill="#fff"/>
<rect x="146" y="310" width="20" height="68" fill="#000"/>
<rect x="148" y="312" width="4" height="3" fill="#fff"/>
<rect x="160" y="312" width="4" height="3" fill="#fff"/>
<rect x="148" y="317" width="4" height="2" fill="#fff"/>
<rect x="160" y="317" width="4" height="2" fill="#fff"/>
<rect x="148" y="321" width="4" height="3" fill="#fff"/>
<rect x="160" y="321" width="4" height="3" fill="#fff"/>
<rect x="148" y="327" width="4" height="2" fill="#fff"/>
<rect x="160" y="327" width="4" height="2" fill="#fff"/>
<rect x="148" y="331" width="4" height="3" fill="#fff"/>
<rect x="160" y="331" width="4" height="3" fill="#fff"/>
<rect x="148" y="336" width="4" height="2" fill="#fff"/>
<rect x="160" y="336" width="4" height="2" fill="#fff"/>
<rect x="148" y="340" width="4" height="3" fill="#fff"/>
<rect x="160" y="340" width="4" height="3" fill="#fff"/>
<rect x="148" y="345" width="4" height="2" fill="#fff"/>
<rect x="160" y="345" width="4" height="2" fill="#fff"/>
<rect x="148" y="349" width="4" height="3" fill="#fff"/>
<rect x="160" y="349" width="4" height="3" fill="#fff"/>
<rect x="148" y="355" width="4" height="2" fill="#fff"/>
<rect x="160" y="355" width="4" height="2" fill="#fff"/>
<rect x="148" y="359" width="4" height="3" fill="#fff"/>
<rect x="160" y="359" width="4" height="3" fill="#fff"/>
<rect x="148" y="364" width="4" height="2" fill="#fff"/>
<rect x="160" y="364" width="4" height="2" fill="#fff"/>
<rect x="148" y="368" width="4" height="3" fill="#fff"/>
<rect x="160" y="368" width="4" height="3" fill="#fff"/>
<rect x="148" y="373" width="4" height="2" fill="#fff"/>
<rect x="160" y="373" width="4" height="2" fill="#fff"/>
<rect x="154" y="315" width="4" height="25" fill="#fff"/>
<rect x="154" y="345" width="4" height="27" fill="#fff"/>
<rect x="154" y="376" width="4" height="2" fill="#fff"/>
<rect x="167" y="310" width="20" height="68" fill="#000"/>
<rect x="169" y="312" width="4" height="3" fill="#fff"/>
<rect x="181" y="312" width="4" height="3" fill="#fff"/>
<rect x="169" y="317" width="4" height="2" fill="#fff"/>
<rect x="181" y="317" width="4" height="2" fill="#fff"/>
<rect x="169" y="321" width="4" height="3" fill="#fff"/>
<rect x="181" y="321" width="4" height="3" fill="#fff"/>
<rect x="169" y="327" width="4" height="2" fill="#fff"/>
<rect x="181" y="327" width="4" height="2" fill="#fff"/>
<rect x="169" y="331" width="4" height="3" fill="#fff"/>
<rect x="181" y="331" width="4" height="3" fill="#fff"/>
<rect x="169" y="336" width="4" height="2" fill="#fff"/>
<rect x="181" y="336" width="4" height="2" fill="#fff"/>
<rect x="169" y="340" width="4" height="3" fill="#fff"/>
<rect x="181" y="340" width="4" height="3" fill="#fff"/>
<rect x="169" y="345" width="4" height="2" fill="#fff"/>
<rect x="181" y="345" width="4" height="2" fill="#fff"/>
<rect x="169" y="349" width="4" height="3" fill="#fff"/>
<rect x="181" y="349" width="4" height="3" fill="#fff"/>
<rect x="169" y="355" width="4" height="2" fill="#fff"/>
<rect x="181" y="355" width="4" height="2" fill="#fff"/>
<rect x="169" y="359" width="4" height="3" fill="#fff"/>
<rect x="181" y="359" width="4" height="3" fill="#fff"/>
<rect x="169" y="364" width="4" height="2" fill="#fff"/>
<rect x="181" y="364" width="4" height="2" fill="#fff"/>
<rect x="169" y="368" width="4" height="3" fill="#fff"/>
<rect x="181" y="368" width="4" height="3" fill="#fff"/>
<rect x="169" y="373" width="4" height="2" fill="#fff"/>
<rect x="181" y="373" width="4" height="2" fill="#fff"/>
<rect x="175" y="315" width="4" height="25" fill="#fff"/>
<rect x="175" y="345" width="4" height="27" fill="#fff"/>
<rect x="175" y="376" width="4" height="2" fill="#fff"/>
<rect x="40" y="310" width="1" height="68" fill="#fff"/>
<rect x="61" y="310" width="1" height="68" fill="#fff"/>
<rect x="62" y="310" width="1" height="68" fill="#fff"/>
<rect x="103" y="310" width="1" height="68" fill="#fff"/>
<rect x="124" y="310" width="1" height="68" fill="#fff"/>
<rect x="145" y="310" width="1" height="68" fill="#fff"/>
<rect x="166" y="310" width="1" height="68" fill="#fff"/>
<rect x="24" y="379" width="161" height="1" fill="#000"/>
<polyline points="96,379.5 102,385 108,379.5" fill="none" stroke="#000" stroke-width="1.3"/>
<rect x="80" y="336" width="48" height="15" fill="#000"/>
<rect x="82" y="338" width="44" height="11" fill="#fff"/>
<path d="M84 385H121V386H122V398H121V399H84V398H83V386H84Z" fill="#000"/>
<rect x="85" y="387" width="35" height="10" fill="#fff"/>
<rect x="204" y="277" width="20" height="79" fill="#000"/>
<rect x="206" y="280" width="4" height="3" fill="#fff"/>
<rect x="218" y="280" width="4" height="3" fill="#fff"/>
<rect x="206" y="285" width="4" height="2" fill="#fff"/>
<rect x="218" y="285" width="4" height="2" fill="#fff"/>
<rect x="206" y="289" width="4" height="3" fill="#fff"/>
<rect x="218" y="289" width="4" height="3" fill="#fff"/>
<rect x="206" y="295" width="4" height="2" fill="#fff"/>
<rect x="218" y="295" width="4" height="2" fill="#fff"/>
<rect x="206" y="299" width="4" height="3" fill="#fff"/>
<rect x="218" y="299" width="4" height="3" fill="#fff"/>
<rect x="206" y="304" width="4" height="2" fill="#fff"/>
<rect x="218" y="304" width="4" height="2" fill="#fff"/>
<rect x="206" y="308" width="4" height="3" fill="#fff"/>
<rect x="218" y="308" width="4" height="3" fill="#fff"/>
<rect x="206" y="313" width="4" height="2" fill="#fff"/>
<rect x="218" y="313" width="4" height="2" fill="#fff"/>
<rect x="206" y="317" width="4" height="3" fill="#fff"/>
<rect x="218" y="317" width="4" height="3" fill="#fff"/>
<rect x="206" y="323" width="4" height="2" fill="#fff"/>
<rect x="218" y="323" width="4" height="2" fill="#fff"/>
<rect x="206" y="327" width="4" height="3" fill="#fff"/>
<rect x="218" y="327" width="4" height="3" fill="#fff"/>
<rect x="206" y="332" width="4" height="2" fill="#fff"/>
<rect x="218" y="332" width="4" height="2" fill="#fff"/>
<rect x="206" y="336" width="4" height="3" fill="#fff"/>
<rect x="218" y="336" width="4" height="3" fill="#fff"/>
<rect x="206" y="341" width="4" height="2" fill="#fff"/>
<rect x="218" y="341" width="4" height="2" fill="#fff"/>
<rect x="206" y="345" width="4" height="3" fill="#fff"/>
<rect x="218" y="345" width="4" height="3" fill="#fff"/>
<rect x="206" y="351" width="4" height="2" fill="#fff"/>
<rect x="218" y="351" width="4" height="2" fill="#fff"/>
<rect x="212" y="283" width="4" height="67" fill="#fff"/>
<rect x="212" y="354" width="4" height="2" fill="#fff"/>
<path d="M202 308H226V309H227V321H226V322H202V321H201V309H202Z" fill="#000"/>
<rect x="203" y="310" width="22" height="10" fill="#fff"/>
<rect x="190" y="309" width="6" height="13" fill="#000"/>
<rect x="192" y="316" width="2" height="1" fill="#fff"/>
<line x1="185" y1="303" x2="192" y2="310" stroke="#000" stroke-width="2.5"/>
<path d="M163 291H187V292H188V304H187V305H163V304H162V292H163Z" fill="#000"/>
<rect x="164" y="293" width="22" height="10" fill="#fff"/>
<rect x="248" y="318" width="12" height="6" fill="#000"/>
<rect x="250" y="320" width="3" height="2" fill="#fff"/>
<rect x="254" y="320" width="3" height="2" fill="#fff"/>
<rect x="259" y="320" width="7" height="2" fill="#000"/>
<path d="M271 314H299V315H300V327H299V328H271V327H270V315H271Z" fill="#000"/>
<rect x="272" y="316" width="26" height="10" fill="#fff"/>
<rect x="189" y="362" width="45" height="20" fill="#000"/>
<rect x="190" y="363" width="43" height="18" fill="#fff"/>
<rect x="191" y="365" width="42" height="3" fill="#000"/>
<rect x="192" y="367" width="11" height="1" fill="#fff"/>
<rect x="204" y="367" width="6" height="1" fill="#fff"/>
<rect x="212" y="367" width="5" height="1" fill="#fff"/>
<rect x="219" y="367" width="6" height="1" fill="#fff"/>
<rect x="226" y="367" width="6" height="1" fill="#fff"/>
<rect x="191" y="370" width="42" height="9" fill="#000"/>
<rect x="195" y="374" width="5" height="4" fill="#fff"/>
<rect x="202" y="374" width="5" height="4" fill="#fff"/>
<rect x="209" y="374" width="5" height="4" fill="#fff"/>
<rect x="216" y="374" width="5" height="4" fill="#fff"/>
<rect x="224" y="374" width="5" height="4" fill="#fff"/>
<rect x="203" y="370" width="1" height="2" fill="#fff"/>
<rect x="211" y="370" width="1" height="2" fill="#fff"/>
<rect x="218" y="370" width="1" height="2" fill="#fff"/>
<rect x="226" y="370" width="1" height="2" fill="#fff"/>
<rect x="213" y="394" width="20" height="45" fill="#000"/>
<rect x="214" y="395" width="18" height="43" fill="#fff"/>
<rect x="216" y="398" width="7" height="7" fill="#000"/>
<rect x="217" y="399" width="5" height="5" fill="#fff"/>
<rect x="216" y="406" width="7" height="7" fill="#000"/>
<rect x="217" y="407" width="5" height="5" fill="#fff"/>
<rect x="216" y="413" width="7" height="7" fill="#000"/>
<rect x="217" y="414" width="5" height="5" fill="#fff"/>
<rect x="216" y="421" width="7" height="7" fill="#000"/>
<rect x="217" y="422" width="5" height="5" fill="#fff"/>
<rect x="216" y="428" width="7" height="7" fill="#000"/>
<rect x="217" y="429" width="5" height="5" fill="#fff"/>
<rect x="223" y="400" width="2" height="9" fill="#000"/>
<rect x="223" y="410" width="2" height="5" fill="#000"/>
<rect x="223" y="417" width="2" height="6" fill="#000"/>
<rect x="223" y="425" width="2" height="6" fill="#000"/>
<rect x="223" y="432" width="2" height="5" fill="#000"/>
<rect x="227" y="396" width="4" height="41" fill="#000"/>
<rect x="228" y="399" width="2" height="3" fill="#fff"/>
<rect x="228" y="403" width="2" height="4" fill="#fff"/>
<rect x="228" y="411" width="2" height="2" fill="#fff"/>
<rect x="228" y="418" width="2" height="2" fill="#fff"/>
<rect x="228" y="426" width="2" height="2" fill="#fff"/>
<rect x="228" y="433" width="2" height="3" fill="#fff"/>
<rect x="207" y="473" width="11" height="6" fill="#000"/>
<rect x="212" y="474" width="1" height="4" fill="#fff"/>
<rect x="201" y="474" width="6" height="3" fill="#000"/>
<path d="M168 468H195V469H196V482H195V483H168V482H167V469H168Z" fill="#000"/>
<rect x="169" y="470" width="25" height="11" fill="#fff"/>
<rect x="207" y="506" width="11" height="6" fill="#000"/>
<rect x="209" y="507" width="2" height="4" fill="#fff"/>
<rect x="212" y="507" width="2" height="4" fill="#fff"/>
<rect x="201" y="507" width="6" height="3" fill="#000"/>
<path d="M168 501H195V502H196V515H195V516H168V515H167V502H168Z" fill="#000"/>
<rect x="169" y="503" width="25" height="11" fill="#fff"/>
<rect x="199" y="569" width="21" height="6" fill="#000"/>
<rect x="200" y="570" width="1" height="4" fill="#fff"/>
<rect x="209" y="570" width="1" height="4" fill="#fff"/>
<rect x="214" y="570" width="1" height="4" fill="#fff"/>
<rect x="218" y="570" width="1" height="4" fill="#fff"/>
<rect x="193" y="571" width="6" height="3" fill="#000"/>
<path d="M160 565H187V566H188V578H187V579H160V578H159V566H160Z" fill="#000"/>
<rect x="161" y="567" width="25" height="10" fill="#fff"/>
<path d="M366 204H448V289H363V207H364V206H365V205H366Z" fill="#000"/>
<rect x="366" y="208" width="2" height="1" fill="#fff"/>
<rect x="365" y="209" width="3" height="1" fill="#fff"/>
<rect x="365" y="210" width="3" height="1" fill="#fff"/>
<rect x="371" y="208" width="3" height="1" fill="#fff"/>
<rect x="371" y="209" width="3" height="1" fill="#fff"/>
<rect x="372" y="210" width="1" height="1" fill="#fff"/>
<rect x="376" y="208" width="3" height="1" fill="#fff"/>
<rect x="376" y="209" width="3" height="1" fill="#fff"/>
<rect x="376" y="210" width="3" height="1" fill="#fff"/>
<rect x="383" y="208" width="1" height="1" fill="#fff"/>
<rect x="382" y="209" width="3" height="1" fill="#fff"/>
<rect x="383" y="210" width="1" height="1" fill="#fff"/>
<rect x="387" y="208" width="3" height="1" fill="#fff"/>
<rect x="387" y="209" width="3" height="1" fill="#fff"/>
<rect x="393" y="208" width="2" height="1" fill="#fff"/>
<rect x="393" y="209" width="3" height="1" fill="#fff"/>
<rect x="393" y="210" width="3" height="1" fill="#fff"/>
<rect x="399" y="208" width="1" height="1" fill="#fff"/>
<rect x="398" y="209" width="3" height="1" fill="#fff"/>
<rect x="398" y="210" width="3" height="1" fill="#fff"/>
<rect x="405" y="208" width="2" height="1" fill="#fff"/>
<rect x="404" y="209" width="3" height="1" fill="#fff"/>
<rect x="405" y="210" width="2" height="1" fill="#fff"/>
<rect x="410" y="208" width="2" height="1" fill="#fff"/>
<rect x="409" y="209" width="3" height="1" fill="#fff"/>
<rect x="409" y="210" width="3" height="1" fill="#fff"/>
<rect x="415" y="208" width="3" height="1" fill="#fff"/>
<rect x="415" y="209" width="3" height="1" fill="#fff"/>
<rect x="416" y="210" width="1" height="1" fill="#fff"/>
<rect x="420" y="208" width="3" height="1" fill="#fff"/>
<rect x="420" y="209" width="3" height="1" fill="#fff"/>
<rect x="420" y="210" width="3" height="1" fill="#fff"/>
<rect x="427" y="208" width="1" height="1" fill="#fff"/>
<rect x="426" y="209" width="3" height="1" fill="#fff"/>
<rect x="427" y="210" width="1" height="1" fill="#fff"/>
<rect x="431" y="208" width="3" height="1" fill="#fff"/>
<rect x="431" y="209" width="3" height="1" fill="#fff"/>
<rect x="437" y="208" width="2" height="1" fill="#fff"/>
<rect x="437" y="209" width="3" height="1" fill="#fff"/>
<rect x="437" y="210" width="3" height="1" fill="#fff"/>
<rect x="443" y="208" width="1" height="1" fill="#fff"/>
<rect x="442" y="209" width="3" height="1" fill="#fff"/>
<rect x="442" y="210" width="3" height="1" fill="#fff"/>
<rect x="365" y="214" width="2" height="1" fill="#fff"/>
<rect x="365" y="215" width="3" height="1" fill="#fff"/>
<rect x="365" y="216" width="3" height="1" fill="#fff"/>
<rect x="371" y="214" width="3" height="1" fill="#fff"/>
<rect x="371" y="215" width="3" height="1" fill="#fff"/>
<rect x="372" y="216" width="1" height="1" fill="#fff"/>
<rect x="376" y="214" width="2" height="1" fill="#fff"/>
<rect x="376" y="215" width="3" height="1" fill="#fff"/>
<rect x="376" y="216" width="3" height="1" fill="#fff"/>
<rect x="382" y="214" width="3" height="1" fill="#fff"/>
<rect x="382" y="215" width="3" height="1" fill="#fff"/>
<rect x="383" y="216" width="1" height="1" fill="#fff"/>
<rect x="387" y="214" width="2" height="1" fill="#fff"/>
<rect x="387" y="215" width="3" height="1" fill="#fff"/>
<rect x="387" y="216" width="3" height="1" fill="#fff"/>
<rect x="393" y="214" width="3" height="1" fill="#fff"/>
<rect x="393" y="215" width="3" height="1" fill="#fff"/>
<rect x="393" y="216" width="3" height="1" fill="#fff"/>
<rect x="399" y="214" width="1" height="1" fill="#fff"/>
<rect x="398" y="215" width="3" height="1" fill="#fff"/>
<rect x="398" y="216" width="3" height="1" fill="#fff"/>
<rect x="404" y="214" width="3" height="1" fill="#fff"/>
<rect x="404" y="215" width="3" height="1" fill="#fff"/>
<rect x="404" y="216" width="3" height="1" fill="#fff"/>
<rect x="410" y="214" width="1" height="1" fill="#fff"/>
<rect x="409" y="215" width="3" height="1" fill="#fff"/>
<rect x="409" y="216" width="3" height="1" fill="#fff"/>
<rect x="415" y="214" width="3" height="1" fill="#fff"/>
<rect x="415" y="215" width="3" height="1" fill="#fff"/>
<rect x="415" y="216" width="3" height="1" fill="#fff"/>
<rect x="421" y="214" width="2" height="1" fill="#fff"/>
<rect x="420" y="215" width="3" height="1" fill="#fff"/>
<rect x="421" y="216" width="2" height="1" fill="#fff"/>
<rect x="427" y="214" width="1" height="1" fill="#fff"/>
<rect x="426" y="215" width="3" height="1" fill="#fff"/>
<rect x="427" y="216" width="1" height="1" fill="#fff"/>
<rect x="432" y="214" width="2" height="1" fill="#fff"/>
<rect x="431" y="215" width="3" height="1" fill="#fff"/>
<rect x="432" y="216" width="2" height="1" fill="#fff"/>
<rect x="438" y="214" width="1" height="1" fill="#fff"/>
<rect x="437" y="215" width="3" height="1" fill="#fff"/>
<rect x="438" y="216" width="1" height="1" fill="#fff"/>
<rect x="443" y="214" width="2" height="1" fill="#fff"/>
<rect x="442" y="215" width="3" height="1" fill="#fff"/>
<rect x="443" y="216" width="2" height="1" fill="#fff"/>
<rect x="365" y="219" width="3" height="1" fill="#fff"/>
<rect x="365" y="220" width="3" height="1" fill="#fff"/>
<rect x="365" y="221" width="3" height="1" fill="#fff"/>
<rect x="371" y="219" width="3" height="1" fill="#fff"/>
<rect x="371" y="220" width="3" height="1" fill="#fff"/>
<rect x="372" y="221" width="1" height="1" fill="#fff"/>
<rect x="377" y="219" width="2" height="1" fill="#fff"/>
<rect x="376" y="220" width="3" height="1" fill="#fff"/>
<rect x="376" y="221" width="3" height="1" fill="#fff"/>
<rect x="383" y="219" width="2" height="1" fill="#fff"/>
<rect x="382" y="220" width="3" height="1" fill="#fff"/>
<rect x="382" y="221" width="3" height="1" fill="#fff"/>
<rect x="388" y="219" width="2" height="1" fill="#fff"/>
<rect x="387" y="220" width="3" height="1" fill="#fff"/>
<rect x="388" y="221" width="2" height="1" fill="#fff"/>
<rect x="394" y="219" width="2" height="1" fill="#fff"/>
<rect x="393" y="220" width="3" height="1" fill="#fff"/>
<rect x="394" y="221" width="2" height="1" fill="#fff"/>
<rect x="399" y="219" width="1" height="1" fill="#fff"/>
<rect x="398" y="220" width="3" height="1" fill="#fff"/>
<rect x="398" y="221" width="3" height="1" fill="#fff"/>
<rect x="404" y="219" width="2" height="1" fill="#fff"/>
<rect x="404" y="220" width="3" height="1" fill="#fff"/>
<rect x="404" y="221" width="3" height="1" fill="#fff"/>
<rect x="409" y="219" width="2" height="1" fill="#fff"/>
<rect x="409" y="220" width="3" height="1" fill="#fff"/>
<rect x="409" y="221" width="3" height="1" fill="#fff"/>
<rect x="415" y="219" width="3" height="1" fill="#fff"/>
<rect x="415" y="220" width="3" height="1" fill="#fff"/>
<rect x="420" y="219" width="3" height="1" fill="#fff"/>
<rect x="420" y="220" width="3" height="1" fill="#fff"/>
<rect x="427" y="219" width="1" height="1" fill="#fff"/>
<rect x="426" y="220" width="3" height="1" fill="#fff"/>
<rect x="427" y="221" width="1" height="1" fill="#fff"/>
<rect x="431" y="219" width="3" height="1" fill="#fff"/>
<rect x="431" y="220" width="3" height="1" fill="#fff"/>
<rect x="431" y="221" width="3" height="1" fill="#fff"/>
<rect x="437" y="219" width="3" height="1" fill="#fff"/>
<rect x="437" y="220" width="3" height="1" fill="#fff"/>
<rect x="437" y="221" width="3" height="1" fill="#fff"/>
<rect x="442" y="219" width="3" height="1" fill="#fff"/>
<rect x="442" y="220" width="3" height="1" fill="#fff"/>
<rect x="443" y="221" width="1" height="1" fill="#fff"/>
<rect x="366" y="224" width="2" height="1" fill="#fff"/>
<rect x="365" y="225" width="3" height="1" fill="#fff"/>
<rect x="366" y="226" width="2" height="1" fill="#fff"/>
<rect x="371" y="224" width="3" height="1" fill="#fff"/>
<rect x="371" y="225" width="3" height="1" fill="#fff"/>
<rect x="372" y="226" width="1" height="1" fill="#fff"/>
<rect x="376" y="224" width="3" height="1" fill="#fff"/>
<rect x="376" y="225" width="3" height="1" fill="#fff"/>
<rect x="432" y="224" width="1" height="1" fill="#fff"/>
<rect x="431" y="225" width="3" height="1" fill="#fff"/>
<rect x="431" y="226" width="3" height="1" fill="#fff"/>
<rect x="438" y="224" width="2" height="1" fill="#fff"/>
<rect x="437" y="225" width="3" height="1" fill="#fff"/>
<rect x="437" y="226" width="3" height="1" fill="#fff"/>
<rect x="443" y="224" width="1" height="1" fill="#fff"/>
<rect x="442" y="225" width="3" height="1" fill="#fff"/>
<rect x="443" y="226" width="1" height="1" fill="#fff"/>
<rect x="365" y="230" width="3" height="1" fill="#fff"/>
<rect x="365" y="231" width="3" height="1" fill="#fff"/>
<rect x="371" y="230" width="3" height="1" fill="#fff"/>
<rect x="371" y="231" width="3" height="1" fill="#fff"/>
<rect x="372" y="232" width="1" height="1" fill="#fff"/>
<rect x="377" y="230" width="2" height="1" fill="#fff"/>
<rect x="376" y="231" width="3" height="1" fill="#fff"/>
<rect x="377" y="232" width="2" height="1" fill="#fff"/>
<rect x="431" y="230" width="3" height="1" fill="#fff"/>
<rect x="431" y="231" width="3" height="1" fill="#fff"/>
<rect x="432" y="232" width="1" height="1" fill="#fff"/>
<rect x="438" y="230" width="2" height="1" fill="#fff"/>
<rect x="437" y="231" width="3" height="1" fill="#fff"/>
<rect x="438" y="232" width="2" height="1" fill="#fff"/>
<rect x="442" y="230" width="2" height="1" fill="#fff"/>
<rect x="442" y="231" width="3" height="1" fill="#fff"/>
<rect x="442" y="232" width="3" height="1" fill="#fff"/>
<rect x="365" y="235" width="3" height="1" fill="#fff"/>
<rect x="365" y="236" width="3" height="1" fill="#fff"/>
<rect x="366" y="237" width="1" height="1" fill="#fff"/>
<rect x="371" y="235" width="3" height="1" fill="#fff"/>
<rect x="371" y="236" width="3" height="1" fill="#fff"/>
<rect x="371" y="237" width="3" height="1" fill="#fff"/>
<rect x="377" y="235" width="1" height="1" fill="#fff"/>
<rect x="376" y="236" width="3" height="1" fill="#fff"/>
<rect x="377" y="237" width="1" height="1" fill="#fff"/>
<rect x="431" y="235" width="2" height="1" fill="#fff"/>
<rect x="431" y="236" width="3" height="1" fill="#fff"/>
<rect x="431" y="237" width="3" height="1" fill="#fff"/>
<rect x="438" y="235" width="1" height="1" fill="#fff"/>
<rect x="437" y="236" width="3" height="1" fill="#fff"/>
<rect x="437" y="237" width="3" height="1" fill="#fff"/>
<rect x="443" y="235" width="2" height="1" fill="#fff"/>
<rect x="442" y="236" width="3" height="1" fill="#fff"/>
<rect x="443" y="237" width="2" height="1" fill="#fff"/>
<rect x="366" y="240" width="1" height="1" fill="#fff"/>
<rect x="365" y="241" width="3" height="1" fill="#fff"/>
<rect x="365" y="242" width="3" height="1" fill="#fff"/>
<rect x="371" y="240" width="3" height="1" fill="#fff"/>
<rect x="371" y="241" width="3" height="1" fill="#fff"/>
<rect x="371" y="242" width="3" height="1" fill="#fff"/>
<rect x="377" y="240" width="1" height="1" fill="#fff"/>
<rect x="376" y="241" width="3" height="1" fill="#fff"/>
<rect x="376" y="242" width="3" height="1" fill="#fff"/>
<rect x="432" y="240" width="2" height="1" fill="#fff"/>
<rect x="431" y="241" width="3" height="1" fill="#fff"/>
<rect x="431" y="242" width="3" height="1" fill="#fff"/>
<rect x="437" y="240" width="3" height="1" fill="#fff"/>
<rect x="437" y="241" width="3" height="1" fill="#fff"/>
<rect x="443" y="240" width="2" height="1" fill="#fff"/>
<rect x="442" y="241" width="3" height="1" fill="#fff"/>
<rect x="442" y="242" width="3" height="1" fill="#fff"/>
<rect x="366" y="246" width="1" height="1" fill="#fff"/>
<rect x="365" y="247" width="3" height="1" fill="#fff"/>
<rect x="366" y="248" width="1" height="1" fill="#fff"/>
<rect x="371" y="246" width="3" height="1" fill="#fff"/>
<rect x="371" y="247" width="3" height="1" fill="#fff"/>
<rect x="371" y="248" width="3" height="1" fill="#fff"/>
<rect x="376" y="246" width="3" height="1" fill="#fff"/>
<rect x="376" y="247" width="3" height="1" fill="#fff"/>
<rect x="377" y="248" width="1" height="1" fill="#fff"/>
<rect x="432" y="246" width="1" height="1" fill="#fff"/>
<rect x="431" y="247" width="3" height="1" fill="#fff"/>
<rect x="432" y="248" width="1" height="1" fill="#fff"/>
<rect x="438" y="246" width="1" height="1" fill="#fff"/>
<rect x="437" y="247" width="3" height="1" fill="#fff"/>
<rect x="438" y="248" width="1" height="1" fill="#fff"/>
<rect x="442" y="246" width="3" height="1" fill="#fff"/>
<rect x="442" y="247" width="3" height="1" fill="#fff"/>
<rect x="442" y="248" width="3" height="1" fill="#fff"/>
<rect x="366" y="251" width="2" height="1" fill="#fff"/>
<rect x="365" y="252" width="3" height="1" fill="#fff"/>
<rect x="365" y="253" width="3" height="1" fill="#fff"/>
<rect x="371" y="251" width="3" height="1" fill="#fff"/>
<rect x="371" y="252" width="3" height="1" fill="#fff"/>
<rect x="371" y="253" width="3" height="1" fill="#fff"/>
<rect x="376" y="251" width="2" height="1" fill="#fff"/>
<rect x="376" y="252" width="3" height="1" fill="#fff"/>
<rect x="376" y="253" width="3" height="1" fill="#fff"/>
<rect x="432" y="251" width="2" height="1" fill="#fff"/>
<rect x="431" y="252" width="3" height="1" fill="#fff"/>
<rect x="432" y="253" width="2" height="1" fill="#fff"/>
<rect x="437" y="251" width="3" height="1" fill="#fff"/>
<rect x="437" y="252" width="3" height="1" fill="#fff"/>
<rect x="438" y="253" width="1" height="1" fill="#fff"/>
<rect x="442" y="251" width="3" height="1" fill="#fff"/>
<rect x="442" y="252" width="3" height="1" fill="#fff"/>
<rect x="365" y="256" width="2" height="1" fill="#fff"/>
<rect x="365" y="257" width="3" height="1" fill="#fff"/>
<rect x="365" y="258" width="3" height="1" fill="#fff"/>
<rect x="371" y="256" width="3" height="1" fill="#fff"/>
<rect x="371" y="257" width="3" height="1" fill="#fff"/>
<rect x="371" y="258" width="3" height="1" fill="#fff"/>
<rect x="377" y="256" width="2" height="1" fill="#fff"/>
<rect x="376" y="257" width="3" height="1" fill="#fff"/>
<rect x="376" y="258" width="3" height="1" fill="#fff"/>
<rect x="431" y="256" width="3" height="1" fill="#fff"/>
<rect x="431" y="257" width="3" height="1" fill="#fff"/>
<rect x="431" y="258" width="3" height="1" fill="#fff"/>
<rect x="438" y="256" width="2" height="1" fill="#fff"/>
<rect x="437" y="257" width="3" height="1" fill="#fff"/>
<rect x="437" y="258" width="3" height="1" fill="#fff"/>
<rect x="443" y="256" width="1" height="1" fill="#fff"/>
<rect x="442" y="257" width="3" height="1" fill="#fff"/>
<rect x="442" y="258" width="3" height="1" fill="#fff"/>
<rect x="365" y="262" width="3" height="1" fill="#fff"/>
<rect x="365" y="263" width="3" height="1" fill="#fff"/>
<rect x="365" y="264" width="3" height="1" fill="#fff"/>
<rect x="372" y="262" width="1" height="1" fill="#fff"/>
<rect x="371" y="263" width="3" height="1" fill="#fff"/>
<rect x="372" y="264" width="1" height="1" fill="#fff"/>
<rect x="376" y="262" width="3" height="1" fill="#fff"/>
<rect x="376" y="263" width="3" height="1" fill="#fff"/>
<rect x="432" y="262" width="1" height="1" fill="#fff"/>
<rect x="431" y="263" width="3" height="1" fill="#fff"/>
<rect x="431" y="264" width="3" height="1" fill="#fff"/>
<rect x="438" y="262" width="2" height="1" fill="#fff"/>
<rect x="437" y="263" width="3" height="1" fill="#fff"/>
<rect x="438" y="264" width="2" height="1" fill="#fff"/>
<rect x="443" y="262" width="2" height="1" fill="#fff"/>
<rect x="442" y="263" width="3" height="1" fill="#fff"/>
<rect x="442" y="264" width="3" height="1" fill="#fff"/>
<rect x="366" y="267" width="2" height="1" fill="#fff"/>
<rect x="365" y="268" width="3" height="1" fill="#fff"/>
<rect x="366" y="269" width="2" height="1" fill="#fff"/>
<rect x="372" y="267" width="1" height="1" fill="#fff"/>
<rect x="371" y="268" width="3" height="1" fill="#fff"/>
<rect x="372" y="269" width="1" height="1" fill="#fff"/>
<rect x="377" y="267" width="2" height="1" fill="#fff"/>
<rect x="376" y="268" width="3" height="1" fill="#fff"/>
<rect x="377" y="269" width="2" height="1" fill="#fff"/>
<rect x="431" y="267" width="3" height="1" fill="#fff"/>
<rect x="431" y="268" width="3" height="1" fill="#fff"/>
<rect x="432" y="269" width="1" height="1" fill="#fff"/>
<rect x="437" y="267" width="2" height="1" fill="#fff"/>
<rect x="437" y="268" width="3" height="1" fill="#fff"/>
<rect x="437" y="269" width="3" height="1" fill="#fff"/>
<rect x="442" y="267" width="3" height="1" fill="#fff"/>
<rect x="442" y="268" width="3" height="1" fill="#fff"/>
<rect x="443" y="269" width="1" height="1" fill="#fff"/>
<rect x="365" y="272" width="3" height="1" fill="#fff"/>
<rect x="365" y="273" width="3" height="1" fill="#fff"/>
<rect x="372" y="272" width="1" height="1" fill="#fff"/>
<rect x="371" y="273" width="3" height="1" fill="#fff"/>
<rect x="372" y="274" width="1" height="1" fill="#fff"/>
<rect x="376" y="272" width="3" height="1" fill="#fff"/>
<rect x="376" y="273" width="3" height="1" fill="#fff"/>
<rect x="376" y="274" width="3" height="1" fill="#fff"/>
<rect x="382" y="272" width="3" height="1" fill="#fff"/>
<rect x="382" y="273" width="3" height="1" fill="#fff"/>
<rect x="382" y="274" width="3" height="1" fill="#fff"/>
<rect x="387" y="272" width="3" height="1" fill="#fff"/>
<rect x="387" y="273" width="3" height="1" fill="#fff"/>
<rect x="388" y="274" width="1" height="1" fill="#fff"/>
<rect x="393" y="272" width="3" height="1" fill="#fff"/>
<rect x="393" y="273" width="3" height="1" fill="#fff"/>
<rect x="394" y="274" width="1" height="1" fill="#fff"/>
<rect x="399" y="272" width="2" height="1" fill="#fff"/>
<rect x="398" y="273" width="3" height="1" fill="#fff"/>
<rect x="398" y="274" width="3" height="1" fill="#fff"/>
<rect x="405" y="272" width="2" height="1" fill="#fff"/>
<rect x="404" y="273" width="3" height="1" fill="#fff"/>
<rect x="405" y="274" width="2" height="1" fill="#fff"/>
<rect x="410" y="272" width="2" height="1" fill="#fff"/>
<rect x="409" y="273" width="3" height="1" fill="#fff"/>
<rect x="410" y="274" width="2" height="1" fill="#fff"/>
<rect x="416" y="272" width="1" height="1" fill="#fff"/>
<rect x="415" y="273" width="3" height="1" fill="#fff"/>
<rect x="415" y="274" width="3" height="1" fill="#fff"/>
<rect x="421" y="272" width="1" height="1" fill="#fff"/>
<rect x="420" y="273" width="3" height="1" fill="#fff"/>
<rect x="420" y="274" width="3" height="1" fill="#fff"/>
<rect x="426" y="272" width="2" height="1" fill="#fff"/>
<rect x="426" y="273" width="3" height="1" fill="#fff"/>
<rect x="426" y="274" width="3" height="1" fill="#fff"/>
<rect x="431" y="272" width="3" height="1" fill="#fff"/>
<rect x="431" y="273" width="3" height="1" fill="#fff"/>
<rect x="437" y="272" width="3" height="1" fill="#fff"/>
<rect x="437" y="273" width="3" height="1" fill="#fff"/>
<rect x="443" y="272" width="1" height="1" fill="#fff"/>
<rect x="442" y="273" width="3" height="1" fill="#fff"/>
<rect x="443" y="274" width="1" height="1" fill="#fff"/>
<rect x="365" y="278" width="3" height="1" fill="#fff"/>
<rect x="365" y="279" width="3" height="1" fill="#fff"/>
<rect x="366" y="280" width="1" height="1" fill="#fff"/>
<rect x="372" y="278" width="1" height="1" fill="#fff"/>
<rect x="371" y="279" width="3" height="1" fill="#fff"/>
<rect x="372" y="280" width="1" height="1" fill="#fff"/>
<rect x="377" y="278" width="1" height="1" fill="#fff"/>
<rect x="376" y="279" width="3" height="1" fill="#fff"/>
<rect x="376" y="280" width="3" height="1" fill="#fff"/>
<rect x="383" y="278" width="2" height="1" fill="#fff"/>
<rect x="382" y="279" width="3" height="1" fill="#fff"/>
<rect x="382" y="280" width="3" height="1" fill="#fff"/>
<rect x="388" y="278" width="1" height="1" fill="#fff"/>
<rect x="387" y="279" width="3" height="1" fill="#fff"/>
<rect x="388" y="280" width="1" height="1" fill="#fff"/>
<rect x="394" y="278" width="1" height="1" fill="#fff"/>
<rect x="393" y="279" width="3" height="1" fill="#fff"/>
<rect x="393" y="280" width="3" height="1" fill="#fff"/>
<rect x="399" y="278" width="2" height="1" fill="#fff"/>
<rect x="398" y="279" width="3" height="1" fill="#fff"/>
<rect x="398" y="280" width="3" height="1" fill="#fff"/>
<rect x="405" y="278" width="1" height="1" fill="#fff"/>
<rect x="404" y="279" width="3" height="1" fill="#fff"/>
<rect x="405" y="280" width="1" height="1" fill="#fff"/>
<rect x="409" y="278" width="2" height="1" fill="#fff"/>
<rect x="409" y="279" width="3" height="1" fill="#fff"/>
<rect x="409" y="280" width="3" height="1" fill="#fff"/>
<rect x="416" y="278" width="2" height="1" fill="#fff"/>
<rect x="415" y="279" width="3" height="1" fill="#fff"/>
<rect x="415" y="280" width="3" height="1" fill="#fff"/>
<rect x="421" y="278" width="1" height="1" fill="#fff"/>
<rect x="420" y="279" width="3" height="1" fill="#fff"/>
<rect x="421" y="280" width="1" height="1" fill="#fff"/>
<rect x="426" y="278" width="2" height="1" fill="#fff"/>
<rect x="426" y="279" width="3" height="1" fill="#fff"/>
<rect x="426" y="280" width="3" height="1" fill="#fff"/>
<rect x="432" y="278" width="2" height="1" fill="#fff"/>
<rect x="431" y="279" width="3" height="1" fill="#fff"/>
<rect x="431" y="280" width="3" height="1" fill="#fff"/>
<rect x="437" y="278" width="3" height="1" fill="#fff"/>
<rect x="437" y="279" width="3" height="1" fill="#fff"/>
<rect x="437" y="280" width="3" height="1" fill="#fff"/>
<rect x="442" y="278" width="2" height="1" fill="#fff"/>
<rect x="442" y="279" width="3" height="1" fill="#fff"/>
<rect x="442" y="280" width="3" height="1" fill="#fff"/>
<rect x="366" y="283" width="1" height="1" fill="#fff"/>
<rect x="365" y="284" width="3" height="1" fill="#fff"/>
<rect x="365" y="285" width="3" height="1" fill="#fff"/>
<rect x="372" y="283" width="1" height="1" fill="#fff"/>
<rect x="371" y="284" width="3" height="1" fill="#fff"/>
<rect x="372" y="285" width="1" height="1" fill="#fff"/>
<rect x="376" y="283" width="3" height="1" fill="#fff"/>
<rect x="376" y="284" width="3" height="1" fill="#fff"/>
<rect x="377" y="285" width="1" height="1" fill="#fff"/>
<rect x="383" y="283" width="2" height="1" fill="#fff"/>
<rect x="382" y="284" width="3" height="1" fill="#fff"/>
<rect x="383" y="285" width="2" height="1" fill="#fff"/>
<rect x="387" y="283" width="2" height="1" fill="#fff"/>
<rect x="387" y="284" width="3" height="1" fill="#fff"/>
<rect x="387" y="285" width="3" height="1" fill="#fff"/>
<rect x="394" y="283" width="1" height="1" fill="#fff"/>
<rect x="393" y="284" width="3" height="1" fill="#fff"/>
<rect x="394" y="285" width="1" height="1" fill="#fff"/>
<rect x="399" y="283" width="2" height="1" fill="#fff"/>
<rect x="398" y="284" width="3" height="1" fill="#fff"/>
<rect x="398" y="285" width="3" height="1" fill="#fff"/>
<rect x="405" y="283" width="1" height="1" fill="#fff"/>
<rect x="404" y="284" width="3" height="1" fill="#fff"/>
<rect x="404" y="285" width="3" height="1" fill="#fff"/>
<rect x="409" y="283" width="3" height="1" fill="#fff"/>
<rect x="409" y="284" width="3" height="1" fill="#fff"/>
<rect x="415" y="283" width="3" height="1" fill="#fff"/>
<rect x="415" y="284" width="3" height="1" fill="#fff"/>
<rect x="415" y="285" width="3" height="1" fill="#fff"/>
<rect x="421" y="283" width="2" height="1" fill="#fff"/>
<rect x="420" y="284" width="3" height="1" fill="#fff"/>
<rect x="420" y="285" width="3" height="1" fill="#fff"/>
<rect x="426" y="283" width="2" height="1" fill="#fff"/>
<rect x="426" y="284" width="3" height="1" fill="#fff"/>
<rect x="426" y="285" width="3" height="1" fill="#fff"/>
<rect x="432" y="283" width="1" height="1" fill="#fff"/>
<rect x="431" y="284" width="3" height="1" fill="#fff"/>
<rect x="432" y="285" width="1" height="1" fill="#fff"/>
<rect x="437" y="283" width="3" height="1" fill="#fff"/>
<rect x="437" y="284" width="3" height="1" fill="#fff"/>
<rect x="438" y="285" width="1" height="1" fill="#fff"/>
<rect x="443" y="283" width="2" height="1" fill="#fff"/>
<rect x="442" y="284" width="3" height="1" fill="#fff"/>
<rect x="443" y="285" width="2" height="1" fill="#fff"/>
<rect x="384" y="225" width="43" height="43" fill="#fff"/>
<circle cx="387.5" cy="229.3" r="2.7" fill="#000" shape-rendering="auto"/>
<path d="M394 240H417V241H418V242H419V253H418V254H417V255H394V254H393V253H392V242H393V241H394Z" fill="#000"/>
<path d="M395 242H416V243H417V252H416V253H395V252H394V243H395Z" fill="#fff"/>
<rect x="497" y="344" width="10" height="96" fill="#000"/>
<rect x="502" y="346" width="1" height="93" fill="#fff"/>
<rect x="498" y="346" width="8" height="1" fill="#fff"/>
<rect x="498" y="350" width="8" height="1" fill="#fff"/>
<rect x="498" y="355" width="8" height="1" fill="#fff"/>
<rect x="498" y="359" width="8" height="1" fill="#fff"/>
<rect x="498" y="364" width="8" height="1" fill="#fff"/>
<rect x="498" y="369" width="8" height="1" fill="#fff"/>
<rect x="498" y="373" width="8" height="1" fill="#fff"/>
<rect x="498" y="378" width="8" height="1" fill="#fff"/>
<rect x="498" y="383" width="8" height="1" fill="#fff"/>
<rect x="498" y="387" width="8" height="1" fill="#fff"/>
<rect x="498" y="392" width="8" height="1" fill="#fff"/>
<rect x="498" y="397" width="8" height="1" fill="#fff"/>
<rect x="498" y="401" width="8" height="1" fill="#fff"/>
<rect x="498" y="406" width="8" height="1" fill="#fff"/>
<rect x="498" y="411" width="8" height="1" fill="#fff"/>
<rect x="498" y="415" width="8" height="1" fill="#fff"/>
<rect x="498" y="424" width="8" height="1" fill="#fff"/>
<rect x="498" y="429" width="8" height="1" fill="#fff"/>
<rect x="498" y="434" width="8" height="1" fill="#fff"/>
<rect x="498" y="438" width="8" height="1" fill="#fff"/>
<rect x="499" y="347" width="2" height="2" fill="#fff"/>
<rect x="480" y="359" width="10" height="81" fill="#000"/>
<rect x="481" y="363" width="8" height="1" fill="#fff"/>
<rect x="481" y="368" width="8" height="1" fill="#fff"/>
<rect x="481" y="372" width="8" height="1" fill="#fff"/>
<rect x="481" y="377" width="8" height="1" fill="#fff"/>
<rect x="481" y="382" width="8" height="1" fill="#fff"/>
<rect x="481" y="387" width="8" height="1" fill="#fff"/>
<rect x="481" y="391" width="8" height="1" fill="#fff"/>
<rect x="481" y="396" width="8" height="1" fill="#fff"/>
<rect x="481" y="401" width="8" height="1" fill="#fff"/>
<rect x="481" y="405" width="8" height="1" fill="#fff"/>
<rect x="481" y="410" width="8" height="1" fill="#fff"/>
<rect x="481" y="415" width="8" height="1" fill="#fff"/>
<rect x="481" y="420" width="8" height="1" fill="#fff"/>
<rect x="481" y="424" width="8" height="1" fill="#fff"/>
<rect x="481" y="429" width="8" height="1" fill="#fff"/>
<rect x="481" y="434" width="8" height="1" fill="#fff"/>
<rect x="481" y="438" width="8" height="1" fill="#fff"/>
<rect x="482" y="361" width="2" height="1" fill="#fff"/>
<rect x="489" y="350" width="8" height="3" fill="#000"/>
<path d="M458 344H485V345H486V358H485V359H458V358H457V345H458Z" fill="#000"/>
<rect x="459" y="346" width="25" height="11" fill="#fff"/>
<rect x="473" y="399" width="7" height="3" fill="#000"/>
<path d="M441 393H468V394H469V407H468V408H441V407H440V394H441Z" fill="#000"/>
<rect x="442" y="395" width="25" height="11" fill="#fff"/>
<rect x="493" y="453" width="62" height="11" fill="#000"/>
<rect x="494" y="458" width="57" height="1" fill="#fff"/>
<rect x="494" y="461" width="60" height="1" fill="#fff"/>
<rect x="498" y="454" width="1" height="8" fill="#fff"/>
<rect x="503" y="454" width="1" height="8" fill="#fff"/>
<rect x="508" y="454" width="1" height="8" fill="#fff"/>
<rect x="512" y="454" width="1" height="8" fill="#fff"/>
<rect x="522" y="454" width="1" height="8" fill="#fff"/>
<rect x="526" y="454" width="1" height="8" fill="#fff"/>
<rect x="531" y="454" width="1" height="8" fill="#fff"/>
<rect x="536" y="454" width="1" height="8" fill="#fff"/>
<rect x="541" y="454" width="1" height="8" fill="#fff"/>
<rect x="546" y="454" width="1" height="8" fill="#fff"/>
<rect x="550" y="454" width="1" height="8" fill="#fff"/>
<rect x="551" y="459" width="2" height="2" fill="#fff"/>
<rect x="524" y="444" width="3" height="9" fill="#000"/>
<path d="M513 426H538V427H539V440H538V441H513V440H512V427H513Z" fill="#000"/>
<rect x="514" y="428" width="23" height="11" fill="#fff"/>
<rect x="358" y="463" width="44" height="83" fill="#000"/>
<rect x="360" y="465" width="2" height="4" fill="#fff"/>
<rect x="365" y="465" width="3" height="4" fill="#fff"/>
<rect x="370" y="465" width="3" height="4" fill="#fff"/>
<rect x="375" y="465" width="3" height="4" fill="#fff"/>
<rect x="380" y="465" width="2" height="4" fill="#fff"/>
<rect x="385" y="465" width="3" height="4" fill="#fff"/>
<rect x="390" y="465" width="2" height="4" fill="#fff"/>
<rect x="395" y="465" width="2" height="4" fill="#fff"/>
<rect x="399" y="465" width="3" height="4" fill="#fff"/>
<rect x="362" y="471" width="36" height="4" fill="#fff"/>
<rect x="358" y="472" width="1" height="2" fill="#fff"/>
<rect x="360" y="477" width="2" height="4" fill="#fff"/>
<rect x="365" y="477" width="3" height="4" fill="#fff"/>
<rect x="370" y="477" width="3" height="4" fill="#fff"/>
<rect x="375" y="477" width="3" height="4" fill="#fff"/>
<rect x="380" y="477" width="2" height="4" fill="#fff"/>
<rect x="385" y="477" width="3" height="4" fill="#fff"/>
<rect x="390" y="477" width="2" height="4" fill="#fff"/>
<rect x="395" y="477" width="2" height="4" fill="#fff"/>
<rect x="399" y="477" width="3" height="4" fill="#fff"/>
<rect x="360" y="485" width="2" height="4" fill="#fff"/>
<rect x="365" y="485" width="3" height="4" fill="#fff"/>
<rect x="370" y="485" width="3" height="4" fill="#fff"/>
<rect x="375" y="485" width="3" height="4" fill="#fff"/>
<rect x="380" y="485" width="2" height="4" fill="#fff"/>
<rect x="385" y="485" width="3" height="4" fill="#fff"/>
<rect x="390" y="485" width="2" height="4" fill="#fff"/>
<rect x="395" y="485" width="2" height="4" fill="#fff"/>
<rect x="399" y="485" width="3" height="4" fill="#fff"/>
<rect x="362" y="491" width="36" height="4" fill="#fff"/>
<rect x="358" y="492" width="1" height="2" fill="#fff"/>
<rect x="360" y="497" width="2" height="4" fill="#fff"/>
<rect x="365" y="497" width="3" height="4" fill="#fff"/>
<rect x="370" y="497" width="3" height="4" fill="#fff"/>
<rect x="375" y="497" width="3" height="4" fill="#fff"/>
<rect x="380" y="497" width="2" height="4" fill="#fff"/>
<rect x="385" y="497" width="3" height="4" fill="#fff"/>
<rect x="390" y="497" width="2" height="4" fill="#fff"/>
<rect x="395" y="497" width="2" height="4" fill="#fff"/>
<rect x="399" y="497" width="3" height="4" fill="#fff"/>
<rect x="360" y="506" width="2" height="4" fill="#fff"/>
<rect x="365" y="506" width="3" height="4" fill="#fff"/>
<rect x="370" y="506" width="3" height="4" fill="#fff"/>
<rect x="375" y="506" width="3" height="4" fill="#fff"/>
<rect x="380" y="506" width="2" height="4" fill="#fff"/>
<rect x="385" y="506" width="3" height="4" fill="#fff"/>
<rect x="390" y="506" width="2" height="4" fill="#fff"/>
<rect x="395" y="506" width="2" height="4" fill="#fff"/>
<rect x="399" y="506" width="3" height="4" fill="#fff"/>
<rect x="362" y="512" width="36" height="4" fill="#fff"/>
<rect x="358" y="513" width="1" height="2" fill="#fff"/>
<rect x="360" y="518" width="2" height="4" fill="#fff"/>
<rect x="365" y="518" width="3" height="4" fill="#fff"/>
<rect x="370" y="518" width="3" height="4" fill="#fff"/>
<rect x="375" y="518" width="3" height="4" fill="#fff"/>
<rect x="380" y="518" width="2" height="4" fill="#fff"/>
<rect x="385" y="518" width="3" height="4" fill="#fff"/>
<rect x="390" y="518" width="2" height="4" fill="#fff"/>
<rect x="395" y="518" width="2" height="4" fill="#fff"/>
<rect x="399" y="518" width="3" height="4" fill="#fff"/>
<rect x="360" y="527" width="2" height="4" fill="#fff"/>
<rect x="365" y="527" width="3" height="4" fill="#fff"/>
<rect x="370" y="527" width="3" height="4" fill="#fff"/>
<rect x="375" y="527" width="3" height="4" fill="#fff"/>
<rect x="380" y="527" width="2" height="4" fill="#fff"/>
<rect x="385" y="527" width="3" height="4" fill="#fff"/>
<rect x="390" y="527" width="2" height="4" fill="#fff"/>
<rect x="395" y="527" width="2" height="4" fill="#fff"/>
<rect x="399" y="527" width="3" height="4" fill="#fff"/>
<rect x="362" y="533" width="36" height="4" fill="#fff"/>
<rect x="358" y="534" width="1" height="2" fill="#fff"/>
<rect x="360" y="539" width="2" height="4" fill="#fff"/>
<rect x="365" y="539" width="3" height="4" fill="#fff"/>
<rect x="370" y="539" width="3" height="4" fill="#fff"/>
<rect x="375" y="539" width="3" height="4" fill="#fff"/>
<rect x="380" y="539" width="2" height="4" fill="#fff"/>
<rect x="385" y="539" width="3" height="4" fill="#fff"/>
<rect x="390" y="539" width="2" height="4" fill="#fff"/>
<rect x="395" y="539" width="2" height="4" fill="#fff"/>
<rect x="399" y="539" width="3" height="4" fill="#fff"/>
<rect x="359" y="504" width="42" height="1" fill="#fff"/>
<rect x="359" y="525" width="42" height="1" fill="#fff"/>
<rect x="360" y="539" width="3" height="4" fill="#fff"/>
<rect x="365" y="539" width="3" height="4" fill="#fff"/>
<rect x="370" y="539" width="3" height="4" fill="#fff"/>
<rect x="375" y="539" width="3" height="4" fill="#fff"/>
<rect x="380" y="539" width="3" height="4" fill="#fff"/>
<rect x="385" y="539" width="3" height="4" fill="#fff"/>
<rect x="390" y="539" width="3" height="4" fill="#fff"/>
<rect x="395" y="539" width="3" height="4" fill="#fff"/>
<rect x="399" y="539" width="3" height="4" fill="#fff"/>
<rect x="373" y="473" width="13" height="61" rx="3" fill="#000"/>
<rect x="374" y="474" width="11" height="59" rx="2" fill="#fff"/>
<rect x="419" y="463" width="42" height="83" fill="#000"/>
<rect x="421" y="464" width="1" height="1" fill="#fff"/>
<rect x="421" y="544" width="1" height="1" fill="#fff"/>
<rect x="424" y="464" width="1" height="1" fill="#fff"/>
<rect x="424" y="544" width="1" height="1" fill="#fff"/>
<rect x="427" y="464" width="1" height="1" fill="#fff"/>
<rect x="427" y="544" width="1" height="1" fill="#fff"/>
<rect x="430" y="464" width="1" height="1" fill="#fff"/>
<rect x="430" y="544" width="1" height="1" fill="#fff"/>
<rect x="433" y="464" width="1" height="1" fill="#fff"/>
<rect x="433" y="544" width="1" height="1" fill="#fff"/>
<rect x="436" y="464" width="1" height="1" fill="#fff"/>
<rect x="436" y="544" width="1" height="1" fill="#fff"/>
<rect x="439" y="464" width="1" height="1" fill="#fff"/>
<rect x="439" y="544" width="1" height="1" fill="#fff"/>
<rect x="443" y="463" width="1" height="3" fill="#fff"/>
<rect x="445" y="463" width="1" height="3" fill="#fff"/>
<rect x="447" y="463" width="1" height="3" fill="#fff"/>
<rect x="449" y="463" width="1" height="3" fill="#fff"/>
<rect x="451" y="463" width="1" height="3" fill="#fff"/>
<rect x="443" y="543" width="1" height="3" fill="#fff"/>
<rect x="445" y="543" width="1" height="3" fill="#fff"/>
<rect x="447" y="543" width="1" height="3" fill="#fff"/>
<rect x="449" y="543" width="1" height="3" fill="#fff"/>
<rect x="451" y="543" width="1" height="3" fill="#fff"/>
<rect x="456" y="464" width="1" height="1" fill="#fff"/>
<rect x="456" y="544" width="1" height="1" fill="#fff"/>
<rect x="459" y="464" width="1" height="1" fill="#fff"/>
<rect x="459" y="544" width="1" height="1" fill="#fff"/>
<rect x="421" y="482" width="1" height="1" fill="#fff"/>
<rect x="421" y="485" width="1" height="1" fill="#fff"/>
<rect x="424" y="482" width="1" height="1" fill="#fff"/>
<rect x="424" y="485" width="1" height="1" fill="#fff"/>
<rect x="427" y="482" width="1" height="1" fill="#fff"/>
<rect x="427" y="485" width="1" height="1" fill="#fff"/>
<rect x="430" y="482" width="1" height="1" fill="#fff"/>
<rect x="430" y="485" width="1" height="1" fill="#fff"/>
<rect x="421" y="523" width="1" height="1" fill="#fff"/>
<rect x="421" y="527" width="1" height="1" fill="#fff"/>
<rect x="424" y="523" width="1" height="1" fill="#fff"/>
<rect x="424" y="527" width="1" height="1" fill="#fff"/>
<rect x="427" y="523" width="1" height="1" fill="#fff"/>
<rect x="427" y="527" width="1" height="1" fill="#fff"/>
<rect x="430" y="523" width="1" height="1" fill="#fff"/>
<rect x="430" y="527" width="1" height="1" fill="#fff"/>
<rect x="420" y="525" width="14" height="1" fill="#fff"/>
<rect x="449" y="482" width="1" height="4" fill="#fff"/>
<rect x="452" y="482" width="1" height="4" fill="#fff"/>
<rect x="456" y="482" width="1" height="1" fill="#fff"/>
<rect x="456" y="485" width="1" height="1" fill="#fff"/>
<rect x="459" y="482" width="1" height="1" fill="#fff"/>
<rect x="459" y="485" width="1" height="1" fill="#fff"/>
<rect x="449" y="502" width="1" height="5" fill="#fff"/>
<rect x="452" y="502" width="1" height="5" fill="#fff"/>
<rect x="456" y="502" width="1" height="1" fill="#fff"/>
<rect x="456" y="506" width="1" height="1" fill="#fff"/>
<rect x="459" y="502" width="1" height="1" fill="#fff"/>
<rect x="459" y="506" width="1" height="1" fill="#fff"/>
<rect x="449" y="521" width="1" height="8" fill="#fff"/>
<rect x="452" y="521" width="1" height="8" fill="#fff"/>
<rect x="456" y="523" width="1" height="1" fill="#fff"/>
<rect x="456" y="527" width="1" height="1" fill="#fff"/>
<rect x="459" y="523" width="1" height="1" fill="#fff"/>
<rect x="459" y="527" width="1" height="1" fill="#fff"/>
<rect x="448" y="525" width="13" height="1" fill="#fff"/>
<rect x="419" y="471" width="2" height="3" fill="#fff"/>
<rect x="419" y="492" width="2" height="3" fill="#fff"/>
<rect x="419" y="514" width="2" height="3" fill="#fff"/>
<rect x="419" y="534" width="2" height="3" fill="#fff"/>
<rect x="435" y="476" width="11" height="57" fill="#fff"/>
<path d="M391 497H427V498H428V499H429V509H428V510H427V511H391V510H390V509H389V499H390V498H391Z" fill="#000"/>
<path d="M392 499H426V500H427V508H426V509H392V508H391V500H392Z" fill="#fff"/>
<rect x="568" y="236" width="32" height="32" fill="#000"/>
<rect x="569" y="237" width="26" height="30" fill="#fff"/>
<path d="M572 244H596V245H597V258H596V259H572V258H571V245H572Z" fill="#000"/>
<rect x="574" y="246" width="21" height="10" fill="#fff"/>
<rect x="599" y="268" width="1" height="3" fill="#000"/>
<rect x="595" y="271" width="5" height="8" fill="#000"/>
<rect x="593" y="273" width="15" height="5" fill="#000"/>
<rect x="594" y="274" width="13" height="3" fill="#fff"/>
<rect x="595" y="273" width="5" height="5" fill="#000"/>
<rect x="572" y="279" width="28" height="37" fill="#000"/>
<rect x="600" y="280" width="13" height="1" fill="#000"/>
<rect x="600" y="313" width="13" height="1" fill="#000"/>
<path d="M582 290H605V291H606V292H607V303H606V304H605V305H582V304H581V303H580V292H581V291H582Z" fill="#000"/>
<path d="M583 292H603V293H604V302H603V303H583V302H582V293H583Z" fill="#fff"/>
<rect x="582" y="292" width="22" height="11" fill="#fff"/>
<rect x="595" y="316" width="5" height="17" fill="#000"/>
<rect x="593" y="317" width="15" height="5" fill="#000"/>
<rect x="594" y="318" width="13" height="3" fill="#fff"/>
<rect x="595" y="317" width="5" height="5" fill="#000"/>
<rect x="593" y="327" width="15" height="5" fill="#000"/>
<rect x="594" y="328" width="13" height="3" fill="#fff"/>
<rect x="595" y="327" width="5" height="5" fill="#000"/>
<rect x="573" y="333" width="27" height="36" fill="#000"/>
<rect x="600" y="334" width="13" height="1" fill="#000"/>
<rect x="600" y="367" width="13" height="1" fill="#000"/>
<path d="M582 344H605V345H606V346H607V357H606V358H605V359H582V358H581V357H580V346H581V345H582Z" fill="#000"/>
<path d="M583 346H603V347H604V356H603V357H583V356H582V347H583Z" fill="#fff"/>
<rect x="582" y="346" width="22" height="11" fill="#fff"/>
<rect x="595" y="369" width="5" height="10" fill="#000"/>
<rect x="599" y="379" width="2" height="4" fill="#000"/>
<rect x="593" y="370" width="15" height="5" fill="#000"/>
<rect x="594" y="371" width="13" height="3" fill="#fff"/>
<rect x="595" y="370" width="5" height="5" fill="#000"/>
<rect x="574" y="390" width="23" height="74" fill="#000"/>
<rect x="594" y="383" width="3" height="88" fill="#000"/>
<rect x="598" y="383" width="2" height="88" fill="#000"/>
<path d="M600 390H607V391H608V392H609V393H610V462H600V461H609V393H608V392H607V391H600Z" fill="#000"/>
<rect x="591" y="384" width="3" height="4" fill="#fff"/>
<rect x="600" y="384" width="4" height="4" fill="#fff"/>
<rect x="590" y="383" width="1" height="6" fill="#000"/>
<rect x="590" y="383" width="4" height="1" fill="#000"/>
<rect x="590" y="388" width="4" height="1" fill="#000"/>
<rect x="600" y="383" width="5" height="1" fill="#000"/>
<rect x="600" y="388" width="5" height="1" fill="#000"/>
<rect x="604" y="383" width="1" height="6" fill="#000"/>
<rect x="591" y="466" width="3" height="3" fill="#fff"/>
<rect x="600" y="466" width="4" height="3" fill="#fff"/>
<rect x="590" y="465" width="1" height="5" fill="#000"/>
<rect x="590" y="465" width="4" height="1" fill="#000"/>
<rect x="590" y="469" width="4" height="1" fill="#000"/>
<rect x="600" y="465" width="5" height="1" fill="#000"/>
<rect x="600" y="469" width="5" height="1" fill="#000"/>
<rect x="604" y="465" width="1" height="5" fill="#000"/>
<rect x="594" y="470" width="7" height="2" fill="#000"/>
<path d="M581 419H604V420H605V421H606V432H605V433H604V434H581V433H580V432H579V421H580V420H581Z" fill="#000"/>
<path d="M582 421H603V422H604V431H603V432H582V431H581V422H582Z" fill="#fff"/>
<rect x="581" y="421" width="23" height="11" fill="#fff"/>
<rect x="599" y="471" width="2" height="56" fill="#000"/>
<rect x="576" y="486" width="24" height="30" fill="#000"/>
<rect x="595" y="481" width="5" height="5" fill="#000"/>
<rect x="595" y="516" width="5" height="5" fill="#000"/>
<rect x="574" y="491" width="2" height="21" fill="#000"/>
<rect x="571" y="493" width="4" height="7" fill="#000"/>
<rect x="572" y="494" width="2" height="5" fill="#fff"/>
<rect x="571" y="502" width="4" height="7" fill="#000"/>
<rect x="572" y="503" width="2" height="5" fill="#fff"/>
<rect x="596" y="521" width="4" height="12" fill="#000"/>
<rect x="593" y="527" width="15" height="5" fill="#000"/>
<rect x="594" y="528" width="13" height="3" fill="#fff"/>
<rect x="595" y="527" width="5" height="5" fill="#000"/>
<rect x="572" y="533" width="28" height="37" fill="#000"/>
<rect x="600" y="534" width="13" height="1" fill="#000"/>
<rect x="600" y="567" width="13" height="1" fill="#000"/>
<rect x="612" y="534" width="1" height="34" fill="#000"/>
<path d="M582 544H604V545H605V546H606V557H605V558H604V559H582V558H581V557H580V546H581V545H582Z" fill="#000"/>
<path d="M583 546H603V547H604V556H603V557H583V556H582V547H583Z" fill="#fff"/>
<rect x="582" y="546" width="22" height="11" fill="#fff"/>
<rect x="596" y="570" width="4" height="16" fill="#000"/>
<rect x="593" y="570" width="15" height="5" fill="#000"/>
<rect x="594" y="571" width="13" height="3" fill="#fff"/>
<rect x="595" y="570" width="5" height="5" fill="#000"/>
<path d="M123 30.5L117 33.0V36.0L123 38.5Z" fill="#000"/>
<rect x="118" y="33.5" width="7" height="2.0" fill="#fff"/>
<path d="M32 35L38 37.5V40.5L32 43Z" fill="#000"/>
<rect x="30" y="38" width="7" height="2" fill="#fff"/>
<path d="M67 69L68.5 75H71.5L73 69Z" fill="#000"/>
<rect x="69" y="67" width="2" height="7" fill="#fff"/>
<path d="M89 96L83 98.5V101.5L89 104Z" fill="#000"/>
<rect x="84" y="99" width="7" height="2" fill="#fff"/>
<path d="M49 103L55 105.5V108.5L49 111Z" fill="#000"/>
<rect x="47" y="106" width="7" height="2" fill="#fff"/>
<path d="M67 138L68.5 132H71.5L73 138Z" fill="#000"/>
<rect x="69" y="133" width="2" height="7" fill="#fff"/>
<path d="M271 317L265 319.5V322.5L271 325Z" fill="#000"/>
<rect x="266" y="320" width="7" height="2" fill="#fff"/>
<path d="M195 471.5L201 474.0V477.0L195 479.5Z" fill="#000"/>
<rect x="193" y="474.5" width="7" height="2.0" fill="#fff"/>
<path d="M195 504.5L201 507.0V510.0L195 512.5Z" fill="#000"/>
<rect x="193" y="507.5" width="7" height="2.0" fill="#fff"/>
<path d="M187 568.5L193 571.0V574.0L187 576.5Z" fill="#000"/>
<rect x="185" y="571.5" width="7" height="2.0" fill="#fff"/>
<path d="M485 347.5L491 350.0V353.0L485 355.5Z" fill="#000"/>
<rect x="483" y="350.5" width="7" height="2.0" fill="#fff"/>
<path d="M468 396.5L474 399.0V402.0L468 404.5Z" fill="#000"/>
<rect x="466" y="399.5" width="7" height="2.0" fill="#fff"/>
<path d="M521.5 440L524.0 445H527.0L529.5 440Z" fill="#000"/>
<rect x="524.5" y="438" width="2.0" height="6" fill="#fff"/>
<g filter="url(#th2)" fill="#000"><text x="420" y="58" font-size="9.8" textLength="27.5" lengthAdjust="spacing">M3211</text></g>
<g filter="url(#th)" fill="#000"><text x="164" y="148" font-size="11" text-anchor="start">SL1</text><text x="55" y="20" font-size="11" text-anchor="start">E10</text><text x="107" y="19" font-size="11" text-anchor="start">E8</text><text x="125" y="38" font-size="11" text-anchor="start">E7</text><text x="99" y="56" font-size="11" text-anchor="start">E9</text><text x="10" y="42" font-size="11" text-anchor="start">J28</text><text x="62" y="66" font-size="11" text-anchor="start">E1</text><text x="84" y="85" font-size="11" text-anchor="start">E2</text><text x="92" y="104" font-size="11" text-anchor="start">E3</text><text x="33" y="111" font-size="11" text-anchor="start">E4</text><text x="39" y="130" font-size="11" text-anchor="start">E5</text><text x="62" y="148" font-size="11" text-anchor="start">E6</text><text x="119" y="209" font-size="11" text-anchor="start">BANK 0</text><text x="119" y="223" font-size="11" text-anchor="start">BANK 1</text><text x="119" y="237" font-size="11" text-anchor="start">BANK 2</text><text x="119" y="251" font-size="11" text-anchor="start">BANK 3</text><text x="84" y="348" font-size="11" text-anchor="start">BANK 0</text><text x="85" y="396" font-size="11" text-anchor="start" textLength="35" lengthAdjust="spacing">CACHE</text><text x="203" y="319" font-size="11" text-anchor="start">TAG</text><text x="165" y="302" font-size="11" text-anchor="start">E12</text><text x="275" y="325" font-size="11" text-anchor="start">E14</text><text x="172" y="479" font-size="11" text-anchor="start">E15</text><text x="172" y="512" font-size="11" text-anchor="start">E13</text><text x="165" y="576" font-size="11" text-anchor="start">J29</text><text x="394" y="251" font-size="11" text-anchor="start">CPU</text><text x="463" y="355" font-size="11" text-anchor="start">J22</text><text x="446" y="404" font-size="11" text-anchor="start">J24</text><text x="517" y="437" font-size="11" text-anchor="start">J19</text><text x="376" y="483" font-size="11" text-anchor="start">B</text><text x="376" y="495" font-size="11" text-anchor="start">A</text><text x="376" y="507" font-size="11" text-anchor="start">N</text><text x="376" y="519" font-size="11" text-anchor="start">K</text><text x="376" y="531" font-size="11" text-anchor="start">1</text><text x="437" y="485" font-size="11" text-anchor="start">B</text><text x="437" y="497" font-size="11" text-anchor="start">A</text><text x="437" y="508" font-size="11" text-anchor="start">N</text><text x="437" y="520" font-size="11" text-anchor="start">K</text><text x="437" y="532" font-size="11" text-anchor="start">0</text><text x="393" y="509" font-size="11" text-anchor="start" textLength="32" lengthAdjust="spacing">VIDEO</text><text x="574" y="255" font-size="11" text-anchor="start" textLength="20" lengthAdjust="spacing">CN5</text><text x="583" y="301" font-size="11" text-anchor="start" textLength="20" lengthAdjust="spacing">CN4</text><text x="583" y="355" font-size="11" text-anchor="start" textLength="20" lengthAdjust="spacing">CN3</text><text x="582" y="430" font-size="11" text-anchor="start" textLength="20" lengthAdjust="spacing">CN2</text><text x="583" y="555" font-size="11" text-anchor="start" textLength="20" lengthAdjust="spacing">CN1</text></g>
</svg></body></html>
